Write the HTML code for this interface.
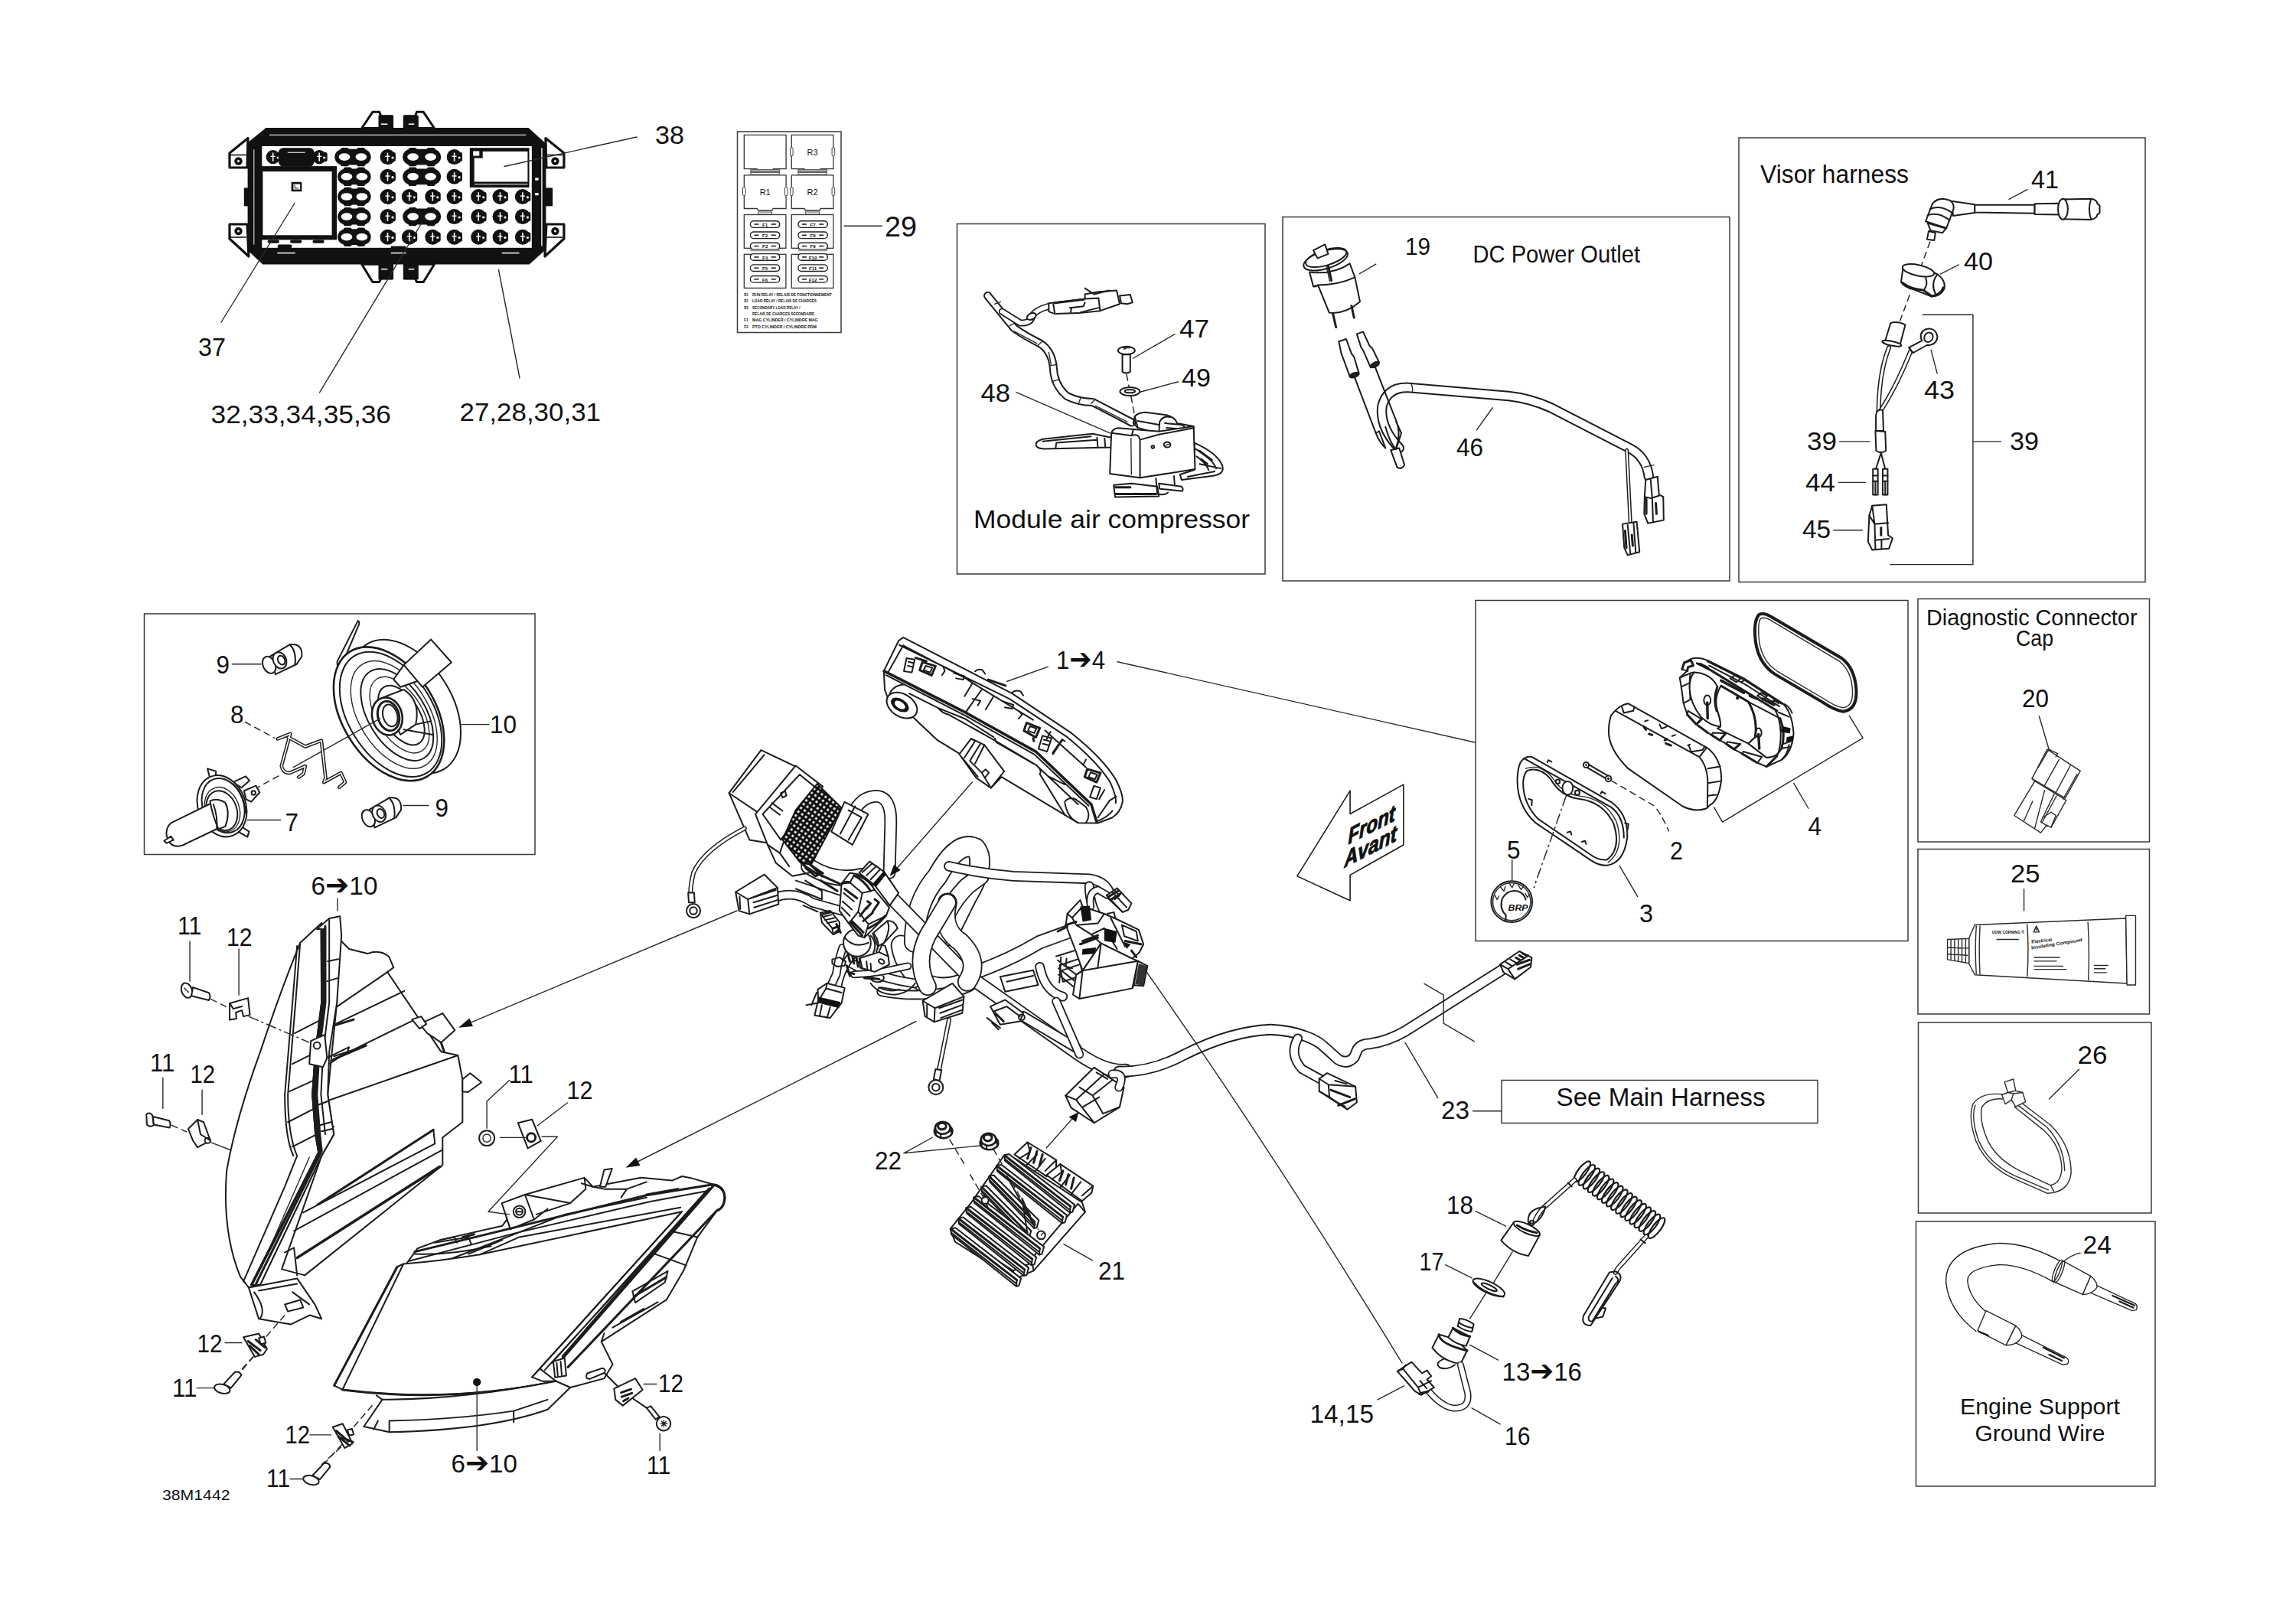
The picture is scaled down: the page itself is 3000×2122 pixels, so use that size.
<!DOCTYPE html>
<html><head><meta charset="utf-8"><title>Electrical System 38M1442</title>
<style>
html,body{margin:0;padding:0;background:#fff}
svg{display:block}
text{font-family:"Liberation Sans",sans-serif;fill:#111}
.l{fill:none;stroke:#1c1c1c;stroke-width:2;stroke-linecap:round;stroke-linejoin:round}
.t{fill:none;stroke:#2a2a2a;stroke-width:1.4;stroke-linecap:round;stroke-linejoin:round}
.h{fill:none;stroke:#1c1c1c;stroke-width:3;stroke-linecap:round;stroke-linejoin:round}
.w{fill:#fff;stroke:#1c1c1c;stroke-width:2;stroke-linecap:round;stroke-linejoin:round}
.k{fill:#111;stroke:none}
.b{fill:none;stroke:#3a3a3a;stroke-width:1.5}
.l,.t,.h,.w,.tb,.tw,.d{vector-effect:non-scaling-stroke}
.tb{fill:none;stroke:#1c1c1c;stroke-linecap:round;stroke-linejoin:round}
.tw{fill:none;stroke:#fff;stroke-linecap:round;stroke-linejoin:round}
.thin .l,.thin .w{stroke-width:1.4;stroke:#2a2a2a}
.thin .h{stroke-width:2.2}
.d{fill:none;stroke:#2a2a2a;stroke-width:1.5;stroke-dasharray:9 5}
.g{fill:#888;stroke:none}
</style></head><body>
<svg width="3000" height="2122" viewBox="0 0 3000 2122">
<rect width="3000" height="2122" fill="#fff"/>
<g id="boxes" class="b">
<rect x="1250.5" y="292.5" width="402.5" height="457.5"/>
<rect x="1676" y="283.5" width="584" height="475.5"/>
<rect x="2272" y="180" width="531" height="580.5"/>
<rect x="1928" y="784.5" width="565" height="445"/>
<rect x="2506" y="782.5" width="302.5" height="317.5"/>
<rect x="2506" y="1109.5" width="302.5" height="215.5"/>
<rect x="2506.5" y="1336" width="304.5" height="249"/>
<rect x="2503.5" y="1596" width="312.5" height="346"/>
<rect x="188.5" y="802" width="510.5" height="314.5"/>
<rect x="1962" y="1411.5" width="413" height="56"/>
<rect x="963.5" y="172" width="135.5" height="262.5" stroke-width="1.5"/>
</g>

<g id="fusebox">
<polygon points="472.7,167.5 486.9,146.3 495.6,146.3 497.8,151.8 512.6,151.8 512.6,167.5" fill="#fff" stroke="#111" stroke-width="3" stroke-linejoin="round"/>
<polygon points="567.5,167.5 553.3,146.3 544.6,146.3 542.4,151.8 528.3,151.8 528.3,167.5" fill="#fff" stroke="#111" stroke-width="3" stroke-linejoin="round"/>
<polygon points="472.7,345.2 486.9,368.5 495.6,368.5 497.8,364.1 512.6,364.1 512.6,345.2" fill="#fff" stroke="#111" stroke-width="3" stroke-linejoin="round"/>
<polygon points="567.5,345.2 553.3,368.5 544.6,368.5 542.4,364.1 528.3,364.1 528.3,345.2" fill="#fff" stroke="#111" stroke-width="3" stroke-linejoin="round"/>
<rect x="494.5" y="150.7" width="18.5" height="16.8" rx="0.0" fill="#111"/>
<rect x="528.3" y="150.7" width="18.5" height="16.8" rx="0.0" fill="#111"/>
<rect x="494.5" y="345.6" width="17.4" height="19.6" rx="0.0" fill="#111"/>
<rect x="528.3" y="345.6" width="18.5" height="19.6" rx="0.0" fill="#111"/>
<line x1="497.8" y1="162.2" x2="506.5" y2="162.2" stroke="#fff" stroke-width="1.5"/>
<line x1="533.7" y1="162.2" x2="541.3" y2="162.2" stroke="#fff" stroke-width="1.5"/>
<line x1="497.8" y1="351.7" x2="506.5" y2="351.7" stroke="#fff" stroke-width="1.5"/>
<line x1="533.7" y1="351.7" x2="541.3" y2="351.7" stroke="#fff" stroke-width="1.5"/>
<polygon points="324.0,180.5 300.0,200.0 300.0,219.0 323.0,219.0" fill="#fff" stroke="#111" stroke-width="3.2" stroke-linejoin="round"/>
<polygon points="323.0,293.0 300.0,293.0 300.0,312.0 325.0,335.0" fill="#fff" stroke="#111" stroke-width="3.2" stroke-linejoin="round"/>
<circle cx="311.5" cy="210.5" r="5.2" fill="#111"/><circle cx="311.5" cy="210.5" r="1.5" fill="#fff"/>
<line x1="300.5" y1="202.5" x2="321.5" y2="202.5" stroke="#111" stroke-width="1.6"/>
<circle cx="311.5" cy="302" r="5.2" fill="#111"/><circle cx="311.5" cy="302" r="1.5" fill="#fff"/>
<line x1="300.5" y1="310.0" x2="321.5" y2="310.0" stroke="#111" stroke-width="1.6"/>
<polygon points="712.9,180.5 736.9,200.0 736.9,219.0 713.9,219.0" fill="#fff" stroke="#111" stroke-width="3.2" stroke-linejoin="round"/>
<polygon points="713.9,293.0 736.9,293.0 736.9,312.0 711.9,335.0" fill="#fff" stroke="#111" stroke-width="3.2" stroke-linejoin="round"/>
<circle cx="725.4" cy="210.5" r="5.2" fill="#111"/><circle cx="725.4" cy="210.5" r="1.5" fill="#fff"/>
<line x1="714.4" y1="202.5" x2="735.4" y2="202.5" stroke="#111" stroke-width="1.6"/>
<circle cx="725.4" cy="302" r="5.2" fill="#111"/><circle cx="725.4" cy="302" r="1.5" fill="#fff"/>
<line x1="714.4" y1="310.0" x2="735.4" y2="310.0" stroke="#111" stroke-width="1.6"/>
<polygon class="k" points="347.5,167.0 690.5,167.0 713.4,187.7 713.4,326.0 691.6,345.6 343.2,345.6 323.6,327.1 323.6,186.6"/>
<rect x="318.8" y="245.4" width="5.9" height="24.0" rx="0.0" fill="#111"/>
<rect x="712.3" y="245.4" width="9.8" height="24.0" rx="0.0" fill="#111"/>
<rect x="342.3" y="191.0" width="352.6" height="132.8" rx="0.0" fill="#fff"/>
<line x1="351.9" y1="176.4" x2="687.2" y2="176.4" stroke="#ddd" stroke-width="1.3"/>
<line x1="331.8" y1="195.3" x2="331.8" y2="319.5" stroke="#ccc" stroke-width="1.2"/>
<line x1="707.9" y1="193.2" x2="707.9" y2="321.6" stroke="#ddd" stroke-width="1.6"/>
<line x1="362.3" y1="330.6" x2="385.6" y2="330.6" stroke="#eee" stroke-width="1.6"/>
<line x1="510.8" y1="330.6" x2="530.4" y2="330.6" stroke="#eee" stroke-width="1.6"/>
<line x1="655.7" y1="330.6" x2="678.5" y2="330.6" stroke="#eee" stroke-width="1.6"/>
<rect x="694.9" y="191.0" width="9.8" height="132.8" rx="0.0" fill="#111"/>
<line x1="693.8" y1="197.5" x2="693.8" y2="238.9" stroke="#fff" stroke-width="1.2"/>
<rect x="341.0" y="217.1" width="99.1" height="96.3" rx="0.0" fill="#111"/>
<rect x="343.4" y="224.1" width="90.2" height="83.2" rx="0.0" fill="#fff"/>
<rect x="380.6" y="237.8" width="13.7" height="12.4" rx="0.0" fill="#111"/>
<rect x="383.4" y="240.6" width="8.7" height="7.0" rx="0.0" fill="#fff"/>
<line x1="385.2" y1="241.5" x2="385.2" y2="245.9" stroke="#111" stroke-width="1"/>
<line x1="385.2" y1="245.9" x2="390.0" y2="245.9" stroke="#111" stroke-width="1"/>
<rect x="349.7" y="313.4" width="15.2" height="4.4" rx="2.2" fill="#111"/>
<rect x="379.1" y="313.4" width="15.2" height="4.4" rx="2.2" fill="#111"/>
<rect x="408.5" y="313.4" width="15.2" height="4.4" rx="2.2" fill="#111"/>
<rect x="362.8" y="319.5" width="18.5" height="5.0" rx="1.7" fill="#111"/>
<rect x="510.8" y="321.6" width="19.6" height="4.4" rx="0.0" fill="#111"/>
<circle cx="356.7" cy="205.1" r="9.1" fill="#111"/>
<rect x="361.0" y="199.0" width="6.1" height="12.2" rx="2.2" fill="#111"/>
<line x1="356.7" y1="199.5" x2="356.7" y2="210.8" stroke="#fff" stroke-width="1.6"/>
<line x1="353.6" y1="204.3" x2="359.7" y2="204.3" stroke="#fff" stroke-width="1.4"/>
<circle cx="363.2" cy="206.0" r="1.6" fill="#fff"/>
<circle cx="417.2" cy="205.1" r="9.1" fill="#111"/>
<rect x="421.6" y="199.0" width="6.1" height="12.2" rx="2.2" fill="#111"/>
<line x1="417.2" y1="199.5" x2="417.2" y2="210.8" stroke="#fff" stroke-width="1.6"/>
<line x1="414.1" y1="204.3" x2="420.2" y2="204.3" stroke="#fff" stroke-width="1.4"/>
<circle cx="423.7" cy="206.0" r="1.6" fill="#fff"/>
<rect x="363.8" y="193.2" width="46.8" height="24.4" rx="6.5" fill="#111"/>
<line x1="375.8" y1="199.3" x2="398.7" y2="199.3" stroke="#ccc" stroke-width="1.3"/>
<rect x="437.2" y="194.7" width="47.5" height="20.9" rx="10.5" fill="#111"/>
<rect x="444.9" y="192.9" width="10.9" height="24.4" rx="2.6" fill="#111"/>
<rect x="466.2" y="192.9" width="10.9" height="24.4" rx="2.6" fill="#111"/>
<ellipse cx="450.0" cy="205.1" rx="7.4" ry="4.8" fill="#fff"/>
<ellipse cx="471.9" cy="205.1" rx="7.4" ry="4.8" fill="#fff"/>
<circle cx="506.5" cy="205.1" r="10.0" fill="#111"/>
<rect x="510.8" y="199.0" width="6.1" height="12.2" rx="2.2" fill="#111"/>
<line x1="506.5" y1="199.5" x2="506.5" y2="210.8" stroke="#fff" stroke-width="1.6"/>
<line x1="503.4" y1="204.3" x2="509.5" y2="204.3" stroke="#fff" stroke-width="1.4"/>
<circle cx="513.0" cy="206.0" r="1.6" fill="#fff"/>
<rect x="526.1" y="194.7" width="50.1" height="20.9" rx="10.5" fill="#111"/>
<rect x="533.7" y="192.9" width="10.9" height="24.4" rx="2.6" fill="#111"/>
<rect x="557.7" y="192.9" width="10.9" height="24.4" rx="2.6" fill="#111"/>
<ellipse cx="539.6" cy="205.1" rx="7.4" ry="4.8" fill="#fff"/>
<ellipse cx="562.6" cy="205.1" rx="7.4" ry="4.8" fill="#fff"/>
<circle cx="593.6" cy="205.1" r="10.0" fill="#111"/>
<rect x="597.9" y="199.0" width="6.1" height="12.2" rx="2.2" fill="#111"/>
<line x1="593.6" y1="199.5" x2="593.6" y2="210.8" stroke="#fff" stroke-width="1.6"/>
<line x1="590.5" y1="204.3" x2="596.6" y2="204.3" stroke="#fff" stroke-width="1.4"/>
<circle cx="600.1" cy="206.0" r="1.6" fill="#fff"/>
<rect x="441.1" y="220.4" width="43.6" height="20.9" rx="10.5" fill="#111"/>
<rect x="448.8" y="218.6" width="10.9" height="24.4" rx="2.6" fill="#111"/>
<rect x="466.2" y="218.6" width="10.9" height="24.4" rx="2.6" fill="#111"/>
<ellipse cx="452.9" cy="230.8" rx="7.4" ry="4.8" fill="#fff"/>
<ellipse cx="472.9" cy="230.8" rx="7.4" ry="4.8" fill="#fff"/>
<circle cx="506.5" cy="230.8" r="10.0" fill="#111"/>
<rect x="510.8" y="224.7" width="6.1" height="12.2" rx="2.2" fill="#111"/>
<line x1="506.5" y1="225.2" x2="506.5" y2="236.5" stroke="#fff" stroke-width="1.6"/>
<line x1="503.4" y1="230.0" x2="509.5" y2="230.0" stroke="#fff" stroke-width="1.4"/>
<circle cx="513.0" cy="231.7" r="1.6" fill="#fff"/>
<rect x="526.1" y="220.4" width="50.1" height="20.9" rx="10.5" fill="#111"/>
<rect x="533.7" y="218.6" width="10.9" height="24.4" rx="2.6" fill="#111"/>
<rect x="557.7" y="218.6" width="10.9" height="24.4" rx="2.6" fill="#111"/>
<ellipse cx="539.6" cy="230.8" rx="7.4" ry="4.8" fill="#fff"/>
<ellipse cx="562.6" cy="230.8" rx="7.4" ry="4.8" fill="#fff"/>
<circle cx="593.6" cy="230.8" r="10.0" fill="#111"/>
<rect x="597.9" y="224.7" width="6.1" height="12.2" rx="2.2" fill="#111"/>
<line x1="593.6" y1="225.2" x2="593.6" y2="236.5" stroke="#fff" stroke-width="1.6"/>
<line x1="590.5" y1="230.0" x2="596.6" y2="230.0" stroke="#fff" stroke-width="1.4"/>
<circle cx="600.1" cy="231.7" r="1.6" fill="#fff"/>
<rect x="441.1" y="246.5" width="43.6" height="20.9" rx="10.5" fill="#111"/>
<rect x="448.8" y="244.8" width="10.9" height="24.4" rx="2.6" fill="#111"/>
<rect x="466.2" y="244.8" width="10.9" height="24.4" rx="2.6" fill="#111"/>
<ellipse cx="452.9" cy="257.0" rx="7.4" ry="4.8" fill="#fff"/>
<ellipse cx="472.9" cy="257.0" rx="7.4" ry="4.8" fill="#fff"/>
<circle cx="506.5" cy="257.0" r="10.0" fill="#111"/>
<rect x="510.8" y="250.9" width="6.1" height="12.2" rx="2.2" fill="#111"/>
<line x1="506.5" y1="251.3" x2="506.5" y2="262.6" stroke="#fff" stroke-width="1.6"/>
<line x1="503.4" y1="256.1" x2="509.5" y2="256.1" stroke="#fff" stroke-width="1.4"/>
<circle cx="513.0" cy="257.8" r="1.6" fill="#fff"/>
<circle cx="534.8" cy="257.0" r="10.0" fill="#111"/>
<rect x="539.1" y="250.9" width="6.1" height="12.2" rx="2.2" fill="#111"/>
<line x1="534.8" y1="251.3" x2="534.8" y2="262.6" stroke="#fff" stroke-width="1.6"/>
<line x1="531.7" y1="256.1" x2="537.8" y2="256.1" stroke="#fff" stroke-width="1.4"/>
<circle cx="541.3" cy="257.8" r="1.6" fill="#fff"/>
<circle cx="565.3" cy="257.0" r="10.0" fill="#111"/>
<rect x="569.6" y="250.9" width="6.1" height="12.2" rx="2.2" fill="#111"/>
<line x1="565.3" y1="251.3" x2="565.3" y2="262.6" stroke="#fff" stroke-width="1.6"/>
<line x1="562.2" y1="256.1" x2="568.3" y2="256.1" stroke="#fff" stroke-width="1.4"/>
<circle cx="571.8" cy="257.8" r="1.6" fill="#fff"/>
<circle cx="593.6" cy="257.0" r="10.0" fill="#111"/>
<rect x="597.9" y="250.9" width="6.1" height="12.2" rx="2.2" fill="#111"/>
<line x1="593.6" y1="251.3" x2="593.6" y2="262.6" stroke="#fff" stroke-width="1.6"/>
<line x1="590.5" y1="256.1" x2="596.6" y2="256.1" stroke="#fff" stroke-width="1.4"/>
<circle cx="600.1" cy="257.8" r="1.6" fill="#fff"/>
<circle cx="625.2" cy="257.0" r="10.0" fill="#111"/>
<rect x="629.5" y="250.9" width="6.1" height="12.2" rx="2.2" fill="#111"/>
<line x1="625.2" y1="251.3" x2="625.2" y2="262.6" stroke="#fff" stroke-width="1.6"/>
<line x1="622.1" y1="256.1" x2="628.2" y2="256.1" stroke="#fff" stroke-width="1.4"/>
<circle cx="631.7" cy="257.8" r="1.6" fill="#fff"/>
<circle cx="653.5" cy="257.0" r="10.0" fill="#111"/>
<rect x="657.8" y="250.9" width="6.1" height="12.2" rx="2.2" fill="#111"/>
<line x1="653.5" y1="251.3" x2="653.5" y2="262.6" stroke="#fff" stroke-width="1.6"/>
<line x1="650.4" y1="256.1" x2="656.5" y2="256.1" stroke="#fff" stroke-width="1.4"/>
<circle cx="660.0" cy="257.8" r="1.6" fill="#fff"/>
<circle cx="682.9" cy="257.0" r="10.0" fill="#111"/>
<rect x="687.2" y="250.9" width="6.1" height="12.2" rx="2.2" fill="#111"/>
<line x1="682.9" y1="251.3" x2="682.9" y2="262.6" stroke="#fff" stroke-width="1.6"/>
<line x1="679.8" y1="256.1" x2="685.9" y2="256.1" stroke="#fff" stroke-width="1.4"/>
<circle cx="689.4" cy="257.8" r="1.6" fill="#fff"/>
<rect x="441.1" y="272.6" width="43.6" height="20.9" rx="10.5" fill="#111"/>
<rect x="448.8" y="270.9" width="10.9" height="24.4" rx="2.6" fill="#111"/>
<rect x="466.2" y="270.9" width="10.9" height="24.4" rx="2.6" fill="#111"/>
<ellipse cx="452.9" cy="283.1" rx="7.4" ry="4.8" fill="#fff"/>
<ellipse cx="472.9" cy="283.1" rx="7.4" ry="4.8" fill="#fff"/>
<circle cx="506.5" cy="283.1" r="10.0" fill="#111"/>
<rect x="510.8" y="277.0" width="6.1" height="12.2" rx="2.2" fill="#111"/>
<line x1="506.5" y1="277.4" x2="506.5" y2="288.8" stroke="#fff" stroke-width="1.6"/>
<line x1="503.4" y1="282.2" x2="509.5" y2="282.2" stroke="#fff" stroke-width="1.4"/>
<circle cx="513.0" cy="284.0" r="1.6" fill="#fff"/>
<rect x="526.1" y="272.6" width="50.1" height="20.9" rx="10.5" fill="#111"/>
<rect x="533.7" y="270.9" width="10.9" height="24.4" rx="2.6" fill="#111"/>
<rect x="557.7" y="270.9" width="10.9" height="24.4" rx="2.6" fill="#111"/>
<ellipse cx="539.6" cy="283.1" rx="7.4" ry="4.8" fill="#fff"/>
<ellipse cx="562.6" cy="283.1" rx="7.4" ry="4.8" fill="#fff"/>
<circle cx="593.6" cy="283.1" r="10.0" fill="#111"/>
<rect x="597.9" y="277.0" width="6.1" height="12.2" rx="2.2" fill="#111"/>
<line x1="593.6" y1="277.4" x2="593.6" y2="288.8" stroke="#fff" stroke-width="1.6"/>
<line x1="590.5" y1="282.2" x2="596.6" y2="282.2" stroke="#fff" stroke-width="1.4"/>
<circle cx="600.1" cy="284.0" r="1.6" fill="#fff"/>
<circle cx="625.2" cy="283.1" r="10.0" fill="#111"/>
<rect x="629.5" y="277.0" width="6.1" height="12.2" rx="2.2" fill="#111"/>
<line x1="625.2" y1="277.4" x2="625.2" y2="288.8" stroke="#fff" stroke-width="1.6"/>
<line x1="622.1" y1="282.2" x2="628.2" y2="282.2" stroke="#fff" stroke-width="1.4"/>
<circle cx="631.7" cy="284.0" r="1.6" fill="#fff"/>
<circle cx="653.5" cy="283.1" r="10.0" fill="#111"/>
<rect x="657.8" y="277.0" width="6.1" height="12.2" rx="2.2" fill="#111"/>
<line x1="653.5" y1="277.4" x2="653.5" y2="288.8" stroke="#fff" stroke-width="1.6"/>
<line x1="650.4" y1="282.2" x2="656.5" y2="282.2" stroke="#fff" stroke-width="1.4"/>
<circle cx="660.0" cy="284.0" r="1.6" fill="#fff"/>
<circle cx="682.9" cy="283.1" r="10.0" fill="#111"/>
<rect x="687.2" y="277.0" width="6.1" height="12.2" rx="2.2" fill="#111"/>
<line x1="682.9" y1="277.4" x2="682.9" y2="288.8" stroke="#fff" stroke-width="1.6"/>
<line x1="679.8" y1="282.2" x2="685.9" y2="282.2" stroke="#fff" stroke-width="1.4"/>
<circle cx="689.4" cy="284.0" r="1.6" fill="#fff"/>
<rect x="441.1" y="299.2" width="43.6" height="20.9" rx="10.5" fill="#111"/>
<rect x="448.8" y="297.5" width="10.9" height="24.4" rx="2.6" fill="#111"/>
<rect x="466.2" y="297.5" width="10.9" height="24.4" rx="2.6" fill="#111"/>
<ellipse cx="452.9" cy="309.7" rx="7.4" ry="4.8" fill="#fff"/>
<ellipse cx="472.9" cy="309.7" rx="7.4" ry="4.8" fill="#fff"/>
<circle cx="506.5" cy="309.7" r="10.0" fill="#111"/>
<rect x="510.8" y="303.6" width="6.1" height="12.2" rx="2.2" fill="#111"/>
<line x1="506.5" y1="304.0" x2="506.5" y2="315.3" stroke="#fff" stroke-width="1.6"/>
<line x1="503.4" y1="308.8" x2="509.5" y2="308.8" stroke="#fff" stroke-width="1.4"/>
<circle cx="513.0" cy="310.5" r="1.6" fill="#fff"/>
<circle cx="534.8" cy="309.7" r="10.0" fill="#111"/>
<rect x="539.1" y="303.6" width="6.1" height="12.2" rx="2.2" fill="#111"/>
<line x1="534.8" y1="304.0" x2="534.8" y2="315.3" stroke="#fff" stroke-width="1.6"/>
<line x1="531.7" y1="308.8" x2="537.8" y2="308.8" stroke="#fff" stroke-width="1.4"/>
<circle cx="541.3" cy="310.5" r="1.6" fill="#fff"/>
<circle cx="565.3" cy="309.7" r="10.0" fill="#111"/>
<rect x="569.6" y="303.6" width="6.1" height="12.2" rx="2.2" fill="#111"/>
<line x1="565.3" y1="304.0" x2="565.3" y2="315.3" stroke="#fff" stroke-width="1.6"/>
<line x1="562.2" y1="308.8" x2="568.3" y2="308.8" stroke="#fff" stroke-width="1.4"/>
<circle cx="571.8" cy="310.5" r="1.6" fill="#fff"/>
<circle cx="593.6" cy="309.7" r="10.0" fill="#111"/>
<rect x="597.9" y="303.6" width="6.1" height="12.2" rx="2.2" fill="#111"/>
<line x1="593.6" y1="304.0" x2="593.6" y2="315.3" stroke="#fff" stroke-width="1.6"/>
<line x1="590.5" y1="308.8" x2="596.6" y2="308.8" stroke="#fff" stroke-width="1.4"/>
<circle cx="600.1" cy="310.5" r="1.6" fill="#fff"/>
<circle cx="625.2" cy="309.7" r="10.0" fill="#111"/>
<rect x="629.5" y="303.6" width="6.1" height="12.2" rx="2.2" fill="#111"/>
<line x1="625.2" y1="304.0" x2="625.2" y2="315.3" stroke="#fff" stroke-width="1.6"/>
<line x1="622.1" y1="308.8" x2="628.2" y2="308.8" stroke="#fff" stroke-width="1.4"/>
<circle cx="631.7" cy="310.5" r="1.6" fill="#fff"/>
<circle cx="653.5" cy="309.7" r="10.0" fill="#111"/>
<rect x="657.8" y="303.6" width="6.1" height="12.2" rx="2.2" fill="#111"/>
<line x1="653.5" y1="304.0" x2="653.5" y2="315.3" stroke="#fff" stroke-width="1.6"/>
<line x1="650.4" y1="308.8" x2="656.5" y2="308.8" stroke="#fff" stroke-width="1.4"/>
<circle cx="660.0" cy="310.5" r="1.6" fill="#fff"/>
<circle cx="682.9" cy="309.7" r="10.0" fill="#111"/>
<rect x="687.2" y="303.6" width="6.1" height="12.2" rx="2.2" fill="#111"/>
<line x1="682.9" y1="304.0" x2="682.9" y2="315.3" stroke="#fff" stroke-width="1.6"/>
<line x1="679.8" y1="308.8" x2="685.9" y2="308.8" stroke="#fff" stroke-width="1.4"/>
<circle cx="689.4" cy="310.5" r="1.6" fill="#fff"/>
<rect x="613.8" y="193.2" width="77.7" height="51.8" rx="0.0" fill="#111"/>
<rect x="619.7" y="197.9" width="69.7" height="39.6" rx="0.0" fill="#fff"/>
<line x1="619.7" y1="240.6" x2="689.4" y2="240.6" stroke="#ccc" stroke-width="1.2"/>
<rect x="616.5" y="195.3" width="14.2" height="11.3" rx="0.0" fill="#111"/>
<rect x="618.2" y="197.5" width="8.1" height="6.1" rx="0.0" fill="#fff"/>
<rect x="699.2" y="232.4" width="4.4" height="3.3" rx="0.0" fill="#fff"/>
<rect x="699.2" y="252.0" width="4.4" height="3.3" rx="0.0" fill="#fff"/>
</g>
<g id="fuselabel">
<polygon points="972.3,176.4 1027.1,176.4 1027.1,220.7 1010.4,220.7 1008.7,223.2 990.8,223.2 989.0,220.7 972.3,220.7" fill="#fff" stroke="#333" stroke-width="1.3"/>
<polygon points="1034.3,176.4 1088.9,176.4 1088.9,220.7 1072.3,220.7 1070.5,223.2 1052.7,223.2 1050.9,220.7 1034.3,220.7" fill="#fff" stroke="#333" stroke-width="1.3"/>
<text x="1061.6" y="202.5" font-size="11" text-anchor="middle" fill="#222">R3</text>
<polygon points="972.3,228.8 1027.1,228.8 1027.1,272.5 1010.4,272.5 1008.7,275.0 990.8,275.0 989.0,272.5 972.3,272.5" fill="#fff" stroke="#333" stroke-width="1.3"/>
<text x="999.7" y="254.6" font-size="11" text-anchor="middle" fill="#222">R1</text>
<polygon points="1034.3,228.8 1088.9,228.8 1088.9,272.5 1072.3,272.5 1070.5,275.0 1052.7,275.0 1050.9,272.5 1034.3,272.5" fill="#fff" stroke="#333" stroke-width="1.3"/>
<text x="1061.6" y="254.6" font-size="11" text-anchor="middle" fill="#222">R2</text>
<rect x="980.9" y="221.6" width="37.5" height="3.0" rx="0.0" fill="#aaa" stroke="#555" stroke-width="1"/>
<rect x="980.9" y="225.4" width="37.5" height="2.5" rx="0.0" fill="none" stroke="#555" stroke-width="1"/>
<rect x="990.7" y="277.0" width="17.9" height="3.0" rx="0.0" fill="none" stroke="#555" stroke-width="1"/>
<rect x="1042.9" y="221.6" width="37.5" height="3.0" rx="0.0" fill="#aaa" stroke="#555" stroke-width="1"/>
<rect x="1042.9" y="225.4" width="37.5" height="2.5" rx="0.0" fill="none" stroke="#555" stroke-width="1"/>
<rect x="1052.7" y="277.0" width="17.9" height="3.0" rx="0.0" fill="none" stroke="#555" stroke-width="1"/>
<rect x="970.5" y="244.8" width="3.6" height="10.7" rx="1.1" fill="#fff" stroke="#444" stroke-width="1"/>
<rect x="1025.4" y="244.8" width="3.6" height="10.7" rx="1.1" fill="#fff" stroke="#444" stroke-width="1"/>
<rect x="1032.5" y="244.8" width="3.6" height="10.7" rx="1.1" fill="#fff" stroke="#444" stroke-width="1"/>
<rect x="1087.1" y="244.8" width="3.6" height="10.7" rx="1.1" fill="#fff" stroke="#444" stroke-width="1"/>
<rect x="1032.5" y="193.0" width="3.6" height="10.7" rx="1.1" fill="#fff" stroke="#444" stroke-width="1"/>
<rect x="1087.1" y="193.0" width="3.6" height="10.7" rx="1.1" fill="#fff" stroke="#444" stroke-width="1"/>
<rect x="972.3" y="280.5" width="54.6" height="43.8" rx="0.0" fill="none" stroke="#333" stroke-width="1.3"/>
<rect x="972.3" y="332.3" width="54.6" height="44.1" rx="0.0" fill="none" stroke="#333" stroke-width="1.3"/>
<rect x="1034.3" y="280.5" width="54.6" height="43.8" rx="0.0" fill="none" stroke="#333" stroke-width="1.3"/>
<rect x="1034.3" y="332.3" width="54.6" height="44.1" rx="0.0" fill="none" stroke="#333" stroke-width="1.3"/>
<rect x="980.4" y="288.8" width="38.4" height="8.6" rx="4.3" fill="#fff" stroke="#222" stroke-width="1.4"/>
<line x1="985.4" y1="293.0" x2="991.4" y2="293.0" stroke="#222" stroke-width="1.6"/>
<line x1="1007.7" y1="293.0" x2="1013.8" y2="293.0" stroke="#222" stroke-width="1.6"/>
<text x="999.6" y="295.7" font-size="6.2" text-anchor="middle" font-weight="bold" fill="#222">F1</text>
<rect x="980.4" y="303.0" width="38.4" height="8.6" rx="4.3" fill="#fff" stroke="#222" stroke-width="1.4"/>
<line x1="985.4" y1="307.3" x2="991.4" y2="307.3" stroke="#222" stroke-width="1.6"/>
<line x1="1007.7" y1="307.3" x2="1013.8" y2="307.3" stroke="#222" stroke-width="1.6"/>
<text x="999.6" y="310.0" font-size="6.2" text-anchor="middle" font-weight="bold" fill="#222">F2</text>
<rect x="980.4" y="317.3" width="38.4" height="8.6" rx="4.3" fill="#fff" stroke="#222" stroke-width="1.4"/>
<line x1="985.4" y1="321.6" x2="991.4" y2="321.6" stroke="#222" stroke-width="1.6"/>
<line x1="1007.7" y1="321.6" x2="1013.8" y2="321.6" stroke="#222" stroke-width="1.6"/>
<text x="999.6" y="324.3" font-size="6.2" text-anchor="middle" font-weight="bold" fill="#222">F3</text>
<rect x="980.4" y="331.6" width="38.4" height="8.6" rx="4.3" fill="#fff" stroke="#222" stroke-width="1.4"/>
<line x1="985.4" y1="335.9" x2="991.4" y2="335.9" stroke="#222" stroke-width="1.6"/>
<line x1="1007.7" y1="335.9" x2="1013.8" y2="335.9" stroke="#222" stroke-width="1.6"/>
<text x="999.6" y="338.6" font-size="6.2" text-anchor="middle" font-weight="bold" fill="#222">F4</text>
<rect x="980.4" y="345.9" width="38.4" height="8.6" rx="4.3" fill="#fff" stroke="#222" stroke-width="1.4"/>
<line x1="985.4" y1="350.2" x2="991.4" y2="350.2" stroke="#222" stroke-width="1.6"/>
<line x1="1007.7" y1="350.2" x2="1013.8" y2="350.2" stroke="#222" stroke-width="1.6"/>
<text x="999.6" y="352.9" font-size="6.2" text-anchor="middle" font-weight="bold" fill="#222">F5</text>
<rect x="980.4" y="360.5" width="38.4" height="8.6" rx="4.3" fill="#fff" stroke="#222" stroke-width="1.4"/>
<line x1="985.4" y1="364.8" x2="991.4" y2="364.8" stroke="#222" stroke-width="1.6"/>
<line x1="1007.7" y1="364.8" x2="1013.8" y2="364.8" stroke="#222" stroke-width="1.6"/>
<text x="999.6" y="367.5" font-size="6.2" text-anchor="middle" font-weight="bold" fill="#222">F6</text>
<line x1="980.4" y1="327.0" x2="1018.8" y2="327.0" stroke="#999" stroke-width="2.5"/>
<rect x="1042.9" y="288.8" width="38.4" height="8.6" rx="4.3" fill="#fff" stroke="#222" stroke-width="1.4"/>
<line x1="1047.9" y1="293.0" x2="1053.9" y2="293.0" stroke="#222" stroke-width="1.6"/>
<line x1="1070.2" y1="293.0" x2="1076.2" y2="293.0" stroke="#222" stroke-width="1.6"/>
<text x="1062.1" y="295.7" font-size="6.2" text-anchor="middle" font-weight="bold" fill="#222">F7</text>
<rect x="1042.9" y="303.0" width="38.4" height="8.6" rx="4.3" fill="#fff" stroke="#222" stroke-width="1.4"/>
<line x1="1047.9" y1="307.3" x2="1053.9" y2="307.3" stroke="#222" stroke-width="1.6"/>
<line x1="1070.2" y1="307.3" x2="1076.2" y2="307.3" stroke="#222" stroke-width="1.6"/>
<text x="1062.1" y="310.0" font-size="6.2" text-anchor="middle" font-weight="bold" fill="#222">F8</text>
<rect x="1042.9" y="317.3" width="38.4" height="8.6" rx="4.3" fill="#fff" stroke="#222" stroke-width="1.4"/>
<line x1="1047.9" y1="321.6" x2="1053.9" y2="321.6" stroke="#222" stroke-width="1.6"/>
<line x1="1070.2" y1="321.6" x2="1076.2" y2="321.6" stroke="#222" stroke-width="1.6"/>
<text x="1062.1" y="324.3" font-size="6.2" text-anchor="middle" font-weight="bold" fill="#222">F9</text>
<rect x="1042.9" y="331.6" width="38.4" height="8.6" rx="4.3" fill="#fff" stroke="#222" stroke-width="1.4"/>
<line x1="1047.9" y1="335.9" x2="1053.9" y2="335.9" stroke="#222" stroke-width="1.6"/>
<line x1="1070.2" y1="335.9" x2="1076.2" y2="335.9" stroke="#222" stroke-width="1.6"/>
<text x="1062.1" y="338.6" font-size="6.2" text-anchor="middle" font-weight="bold" fill="#222">F10</text>
<rect x="1042.9" y="345.9" width="38.4" height="8.6" rx="4.3" fill="#fff" stroke="#222" stroke-width="1.4"/>
<line x1="1047.9" y1="350.2" x2="1053.9" y2="350.2" stroke="#222" stroke-width="1.6"/>
<line x1="1070.2" y1="350.2" x2="1076.2" y2="350.2" stroke="#222" stroke-width="1.6"/>
<text x="1062.1" y="352.9" font-size="6.2" text-anchor="middle" font-weight="bold" fill="#222">F11</text>
<rect x="1042.9" y="360.5" width="38.4" height="8.6" rx="4.3" fill="#fff" stroke="#222" stroke-width="1.4"/>
<line x1="1047.9" y1="364.8" x2="1053.9" y2="364.8" stroke="#222" stroke-width="1.6"/>
<line x1="1070.2" y1="364.8" x2="1076.2" y2="364.8" stroke="#222" stroke-width="1.6"/>
<text x="1062.1" y="367.5" font-size="6.2" text-anchor="middle" font-weight="bold" fill="#222">F12</text>
<line x1="1042.9" y1="327.0" x2="1081.2" y2="327.0" stroke="#999" stroke-width="2.5"/>
<text x="972.3" y="387.1" font-size="4.6" text-anchor="start" textLength="5.4" lengthAdjust="spacingAndGlyphs" font-weight="bold" fill="#222">R1</text>
<text x="983.0" y="387.1" font-size="4.6" text-anchor="start" textLength="103.6" lengthAdjust="spacingAndGlyphs" font-weight="bold" fill="#222">RUN RELAY / RELAIS DE FONCTIONNEMENT</text>
<text x="972.3" y="395.4" font-size="4.6" text-anchor="start" textLength="5.4" lengthAdjust="spacingAndGlyphs" font-weight="bold" fill="#222">R2</text>
<text x="983.0" y="395.4" font-size="4.6" text-anchor="start" textLength="83.9" lengthAdjust="spacingAndGlyphs" font-weight="bold" fill="#222">LOAD RELAY / RELAIS DE CHARGES</text>
<text x="972.3" y="403.6" font-size="4.6" text-anchor="start" textLength="5.4" lengthAdjust="spacingAndGlyphs" font-weight="bold" fill="#222">R3</text>
<text x="983.0" y="403.6" font-size="4.6" text-anchor="start" textLength="62.5" lengthAdjust="spacingAndGlyphs" font-weight="bold" fill="#222">SECONDARY LOAD RELAY /</text>
<text x="983.0" y="411.8" font-size="4.6" text-anchor="start" textLength="81.2" lengthAdjust="spacingAndGlyphs" font-weight="bold" fill="#222">RELAIS DE CHARGES SECONDAIRE</text>
<text x="972.3" y="420.2" font-size="4.6" text-anchor="start" textLength="5.4" lengthAdjust="spacingAndGlyphs" font-weight="bold" fill="#222">F1</text>
<text x="983.0" y="420.2" font-size="4.6" text-anchor="start" textLength="85.7" lengthAdjust="spacingAndGlyphs" font-weight="bold" fill="#222">MAG CYLINDER / CYLINDRE MAG</text>
<text x="972.3" y="428.8" font-size="4.6" text-anchor="start" textLength="5.4" lengthAdjust="spacingAndGlyphs" font-weight="bold" fill="#222">F2</text>
<text x="983.0" y="428.8" font-size="4.6" text-anchor="start" textLength="83.9" lengthAdjust="spacingAndGlyphs" font-weight="bold" fill="#222">PTO CYLINDER / CYLINDRE PDM</text>
</g>
<g id="module" transform="translate(1260,350) scale(0.19707)">
<!-- long harness tube -->
<path class="tb" stroke-width="11" d="M155,185 L330,400 Q400,450 500,500 Q580,550 590,660 Q595,780 680,850 Q760,890 850,890 L1110,1025"/>
<path class="tw" stroke-width="7" d="M155,185 L330,400 Q400,450 500,500 Q580,550 590,660 Q595,780 680,850 Q760,890 850,890 L1110,1025"/>
<path class="t" d="M200,240 L240,225 M300,385 L345,360 M480,520 L520,485 M565,650 L615,640 M580,755 L625,740 M760,895 L770,865 M840,900 L870,870 M870,915 L1080,1020 M330,420 L480,500 M560,560 L575,640"/>
<!-- branch to connector -->
<path class="tb" stroke-width="9" d="M250,290 L370,365 Q440,370 450,320 Q470,280 560,255"/>
<path class="tw" stroke-width="5.5" d="M250,290 L370,365 Q440,370 450,320 Q470,280 560,255"/>
<ellipse class="w" cx="445" cy="322" rx="32" ry="20" transform="rotate(-25 445 322)"/>
<!-- top connector -->
<path class="w" d="M560,235 L800,205 L800,175 L880,160 L1010,150 L1030,240 L900,285 L760,300 L600,305 L560,290 Z"/>
<path class="w" d="M1030,185 L1100,178 L1115,230 L1080,240 L1040,235 Z"/>
<path class="l" d="M800,135 L860,175 L960,150 M800,205 L890,200 L900,285 M590,240 L600,305 M700,265 L790,255 L800,230 M710,270 L705,295 M770,295 L900,262"/>
<path class="h" d="M600,232 L790,210"/>
<!-- screw 47 -->
<path class="w" d="M1048,575 L1048,690 Q1075,705 1100,690 L1100,575 Z"/>
<ellipse class="w" cx="1075" cy="548" rx="56" ry="26"/>
<path class="t" d="M1050,530 L1100,530 M1060,540 L1090,522"/>
<!-- washer 49 -->
<ellipse class="w" cx="1098" cy="820" rx="66" ry="28"/>
<ellipse class="l" cx="1098" cy="818" rx="34" ry="11"/>
<path class="d" d="M1075,705 L1092,790 M1105,850 L1130,985"/>
<!-- left tube of module -->
<path class="w" d="M975,1125 L850,1100 L520,1135 Q470,1150 475,1175 Q480,1200 530,1200 L975,1190 Z"/>
<path class="l" d="M520,1150 L840,1118 M610,1160 L880,1140 M610,1160 L605,1198 M880,1125 L885,1190 M930,1130 L935,1190"/>
<!-- bracket top right -->
<path class="w" d="M1130,985 Q1150,960 1200,958 L1340,975 Q1400,990 1410,1030 L1520,1050 L1520,1110 L1290,1100 L1150,1060 Z"/>
<path class="l" d="M1290,1100 L1295,1020 Q1320,975 1370,990 M1330,1030 L1440,1040 Q1470,1050 1450,1070 L1340,1060 M1150,1015 L1290,1040 M1130,985 L1120,1030 L1150,1060"/>
<!-- right wires -->
<path class="w" d="M1525,1160 Q1680,1230 1710,1310 Q1730,1370 1640,1380 L1440,1405 L1430,1370 L1525,1340 Z"/>
<path class="l" d="M1530,1200 Q1640,1260 1670,1330 M1540,1250 Q1600,1290 1620,1340 M1480,1385 L1660,1350 M1560,1300 L1700,1330"/>
<path class="h" d="M1560,1215 L1640,1275 M1570,1270 L1610,1300"/>
<!-- bottom connector + pins -->
<path class="w" d="M990,1440 L1110,1430 L1280,1450 L1290,1515 L1000,1520 Z"/>
<path class="h" d="M1000,1455 L1100,1455 M1000,1500 L1270,1500"/>
<path class="w" d="M1290,1430 L1440,1450 Q1455,1465 1445,1480 L1295,1465 Z"/>
<path class="l" d="M1270,1395 L1280,1500 Q1330,1510 1350,1490 M1390,1380 L1395,1440"/>
<!-- main box -->
<path class="w" d="M975,1095 Q985,1065 1020,1062 L1290,1085 L1520,1050 L1530,1335 L1165,1392 L965,1365 Z"/>
<path class="l" d="M975,1095 L1110,1112 Q1155,1095 1165,1140 L1165,1392 M1165,1140 L1290,1105 L1520,1062 M1110,1112 L1120,1075"/>
<path class="t" d="M1105,1130 L1108,1370"/>
<circle class="l" cx="1250" cy="1188" r="9"/>
<ellipse class="l" cx="1345" cy="1172" rx="22" ry="18"/>
<path class="t" d="M1325,1180 L1366,1165"/>
</g>

<g id="dcoutlet" transform="translate(1680,300) scale(0.27711)">
<!-- main tube -->
<path class="tb" stroke-width="13.5" d="M535,1030 Q440,930 455,830 Q480,740 580,745 L1050,785 Q1150,795 1250,840 L1620,1030 Q1700,1070 1712,1165"/>
<path class="tw" stroke-width="9.5" d="M535,1030 Q440,930 455,830 Q480,740 580,745 L1050,785 Q1150,795 1250,840 L1620,1030 Q1700,1070 1712,1165"/>
<path class="t" d="M592,728 Q602,750 595,770 M1690,1120 L1735,1110"/>
<!-- tip -->
<path class="w" d="M495,1040 L525,1120 Q545,1135 560,1110 L535,1030 Z"/>
<!-- thin wires -->
<path class="l" d="M322,690 L425,960 Q440,1000 470,1030 M420,645 L520,900 Q545,960 520,1030 M425,960 L440,950 L470,1030 M520,905 L545,960 L520,1035 M470,930 Q490,1000 515,1030"/>
<!-- terminals -->
<path class="w" d="M250,528 L285,516 L310,585 L322,600 L345,678 L303,695 L268,600 L262,585 Z"/>
<path class="w" d="M335,492 L365,482 L395,548 L408,560 L440,625 L400,650 L365,570 L355,555 Z"/>
<ellipse class="h" cx="324" cy="686" rx="20" ry="8" transform="rotate(-20 324 686)"/>
<ellipse class="h" cx="420" cy="637" rx="20" ry="8" transform="rotate(-25 420 637)"/>
<!-- outlet -->
<ellipse class="w" cx="188" cy="142" rx="108" ry="42" transform="rotate(-17 188 142)"/>
<ellipse class="l" cx="190" cy="132" rx="100" ry="36" transform="rotate(-17 190 132)"/>
<path class="w" d="M130,98 L185,70 L200,115 L150,135 Z"/>
<path class="w" d="M112,200 L130,268 L152,262 L205,392 Q280,400 350,340 L326,225 L302,160 Q220,215 112,200 Z"/>
<path class="l" d="M152,262 Q250,260 326,225 M130,268 Q140,270 152,262"/>
<path class="h" d="M200,172 L215,240 M222,395 L237,460 M310,360 L322,415"/>
<path class="t" d="M192,175 L207,243"/>
<!-- thin branch -->
<path class="tb" stroke-width="5" d="M1608,1040 L1625,1385"/>
<path class="tw" stroke-width="2" d="M1608,1040 L1625,1385"/>
<!-- connectors -->
<path class="w" d="M1697,1180 L1753,1165 L1760,1250 L1780,1260 L1782,1370 L1708,1385 L1690,1340 L1692,1260 Z"/>
<path class="l" d="M1720,1175 L1728,1265 L1760,1255 M1728,1265 L1732,1380 M1692,1260 L1728,1268"/>
<path class="h" d="M1745,1290 L1748,1340 M1700,1270 L1700,1340"/>
<path class="w" d="M1588,1388 L1655,1378 L1668,1520 L1612,1535 L1596,1500 Z"/>
<path class="l" d="M1612,1392 L1625,1530 M1640,1385 L1650,1520"/>
<path class="h" d="M1600,1420 L1606,1500 M1632,1440 L1636,1490"/>
</g>

<g id="visor" transform="translate(2420,230) scale(0.32029)">
<!-- cable 41 -->
<path class="w" d="M500,118 L745,118 L745,152 L500,148 Z"/>
<path class="w" d="M405,102 L500,116 L500,150 L412,162 Z"/>
<path class="w" d="M745,113 L850,112 L850,158 L745,156 Z"/>
<path class="w" d="M858,95 L975,93 Q1000,98 1000,112 L1010,120 L1010,150 L1000,158 Q1000,172 975,178 L858,176 Z"/>
<ellipse class="w" cx="860" cy="135" rx="20" ry="42"/>
<path class="l" d="M975,93 Q960,135 975,178"/>
<path class="w" d="M300,185 L328,112 Q355,82 400,100 Q420,115 412,140 L385,212 Z"/>
<path class="l" d="M318,135 Q360,115 408,150 M308,160 Q350,145 398,180"/>
<path class="w" d="M308,192 L383,214 L368,232 L320,222 Z"/>
<path class="w" d="M312,225 L340,232 L335,262 L306,258 Z"/>
<!-- dashed axis -->
<path class="d" d="M318,268 L275,385 M235,485 L195,592"/>
<!-- cap 40 -->
<path class="w" d="M208,372 L200,432 Q215,455 250,462 L325,492 Q360,490 375,462 Q385,430 350,402 L335,395 Z"/>
<ellipse class="w" cx="270" cy="385" rx="66" ry="22" transform="rotate(12 270 385)"/>
<path class="h" d="M205,435 Q240,462 290,465 L325,490 Q362,485 372,455"/>
<path class="l" d="M300,415 Q310,440 295,462 M345,405 Q320,440 340,480"/>
<!-- ferrule -->
<path class="w" d="M157,600 Q185,590 217,607 L195,690 L135,672 Z"/>
<ellipse class="w" cx="162" cy="683" rx="40" ry="9" transform="rotate(12 162 683)"/>
<!-- wires -->
<path class="tb" stroke-width="6" d="M150,700 Q110,800 108,960"/>
<path class="tw" stroke-width="3" d="M150,700 Q110,800 108,960"/>
<path class="tb" stroke-width="6" d="M238,716 Q180,860 115,960"/>
<path class="tw" stroke-width="3" d="M238,716 Q180,860 115,960"/>
<!-- ring terminal 43 -->
<path class="w" d="M232,700 L285,672 Q270,640 300,625 Q340,615 348,655 Q345,690 305,690 L248,722 Z"/>
<ellipse class="l" cx="312" cy="658" rx="17" ry="20" transform="rotate(30 312 658)"/>
<path class="l" d="M232,700 Q240,715 250,720"/>
<!-- junction sleeve -->
<path class="w" d="M97,975 Q100,950 125,955 L128,1040 L97,1040 Z"/>
<path class="w" d="M95,1040 L135,1043 L138,1120 Q118,1135 98,1120 Z"/>
<path class="l" d="M118,1130 L97,1195 M118,1130 L135,1195"/>
<!-- terminals 44 -->
<rect class="w" x="85" y="1195" width="20" height="105"/>
<rect class="w" x="125" y="1195" width="20" height="105"/>
<path class="l" d="M85,1222 L105,1222 M85,1245 L105,1245 M125,1222 L145,1222 M125,1245 L145,1245 M95,1250 L95,1300 M135,1250 L135,1300"/>
<!-- connector 45 -->
<path class="w" d="M82,1345 L140,1340 L147,1465 L165,1478 L150,1520 L82,1525 L65,1492 L70,1385 Z"/>
<path class="l" d="M82,1345 L92,1420 L147,1415 M92,1420 L95,1522 M70,1385 L92,1420 M95,1485 L150,1480 M120,1485 L120,1522"/>
<path class="h" d="M118,1435 L118,1465"/>
<!-- bracket -->
<path class="t" d="M288,566 L493,566 L493,1585 L155,1585 M493,1083 L607,1083"/>
</g>

<g id="gaugebox" transform="translate(1930,785) scale(0.27397)">
<!-- gasket -->
<path class="h" stroke-width="4" style="stroke-width:4" d="M1345,65 Q1370,55 1400,75 L1740,275 Q1800,320 1808,420 Q1815,520 1745,528 Q1700,520 1650,485 L1420,350 Q1330,290 1325,160 Q1322,90 1345,65 Z"/>
<path class="t" d="M1352,85 Q1372,75 1398,92 L1730,290 Q1785,335 1790,425 Q1795,505 1745,510 Q1705,503 1658,470 L1430,335 Q1348,280 1343,165 Q1340,100 1352,85 Z"/>
<!-- lens cover -->
<path class="w" d="M640,545 Q680,495 720,490 L1095,700 Q1165,750 1165,850 Q1155,950 1110,975 L1095,990 Q1040,1010 980,980 L720,800 Q620,700 628,610 Q630,570 640,545 Z"/>
<path class="l" d="M660,525 L1060,745 Q1100,790 1100,870 L1098,985 M1060,745 L1095,700 M1100,800 L1160,790 M1100,870 L1163,860 M1100,930 L1140,925"/>
<path class="l" d="M690,505 L700,535 L745,525 L750,505 M1010,690 L1020,720 L1075,712 L1085,695 M870,590 L880,610 L905,600 M800,575 L815,570 M930,645 L945,640 M1005,690 L1015,685"/>
<path class="h" d="M795,600 L805,615 M820,635 L835,640 M895,665 L905,660 M900,680 L925,690"/>
<!-- bezel 3 -->
<path class="w" d="M215,760 Q235,738 262,745 L640,960 Q722,1020 716,1130 Q700,1250 620,1262 Q580,1264 540,1236 L280,1060 Q190,980 192,850 Q195,780 215,760 Z"/>
<path class="l" d="M240,810 Q300,790 350,850 Q400,935 490,945 Q600,960 650,1060 Q690,1180 620,1235 Q580,1240 540,1210 L290,1040 Q215,960 220,860 Q225,820 240,810 Z"/>
<path class="t" d="M232,800 Q305,775 360,845 Q405,920 495,932 Q612,945 665,1055 Q705,1185 625,1248"/>
<path class="l" d="M225,752 L640,985 Q700,1030 700,1130 M335,770 L340,760 L355,768 M590,920 L595,910 L612,920 M705,1060 L722,1065 L718,1090 M430,1105 L445,1100 L450,1115 M500,1150 L515,1145 L520,1160 M245,945 L262,950 L260,975"/>
<ellipse class="w" cx="432" cy="893" rx="25" ry="32"/>
<circle class="l" cx="385" cy="862" r="10"/><circle class="l" cx="478" cy="915" r="11"/>
<!-- screw 2 -->
<path class="w" d="M522,775 L630,838 L622,852 L515,790 Z"/>
<circle class="w" cx="520" cy="783" r="13"/><circle class="w" cx="626" cy="848" r="14"/>
<circle class="k" cx="520" cy="783" r="5"/><circle class="k" cx="626" cy="848" r="6"/>
<!-- BRP cap 5 -->
<circle class="w" cx="165" cy="1435" r="98"/>
<circle class="t" cx="165" cy="1435" r="90"/>
<path class="l" d="M135,1530 L138,1500 Q105,1470 120,1420 Q145,1375 195,1385 Q225,1395 232,1425"/>
<path class="t" d="M85,1405 L95,1425 L105,1408 M112,1365 L128,1385 L135,1362 M152,1345 L167,1368 L178,1345 M195,1355 L210,1378 L222,1360 M230,1395 L240,1415 L250,1400"/>
<text x="148" y="1478" font-size="40" font-weight="bold" font-style="italic" textLength="95" lengthAdjust="spacingAndGlyphs">BRP</text>
</g>

<g id="housing" transform="translate(2180,850) scale(0.09852)">
<!-- silhouette -->
<path class="w" d="M300,110 Q400,80 520,130 L1000,370 L1500,690 Q1640,800 1660,1100 Q1640,1350 1500,1450 L1300,1540 L1180,1490 L980,1370 L870,1310 L770,1240 L680,1190 L570,1120 L370,980 L250,850 L200,700 L170,480 L150,360 L250,270 L180,250 L210,160 Z"/>
<!-- left hook & tabs -->
<path class="h" d="M180,250 L210,160 L300,130 L330,200 L260,220 L250,270"/>
<path class="l" d="M150,360 L290,300 L280,430 L170,480 M280,430 L290,650 L200,700 M290,300 L340,290"/>
<!-- bottom tabs -->
<path class="w" d="M260,800 L440,910 L370,980 L250,850 Z"/><path class="w" d="M590,1090 L760,1100 L680,1190 L570,1120 Z"/><path class="w" d="M780,1210 L950,1240 L870,1310 L770,1240 Z"/><path class="w" d="M990,1340 L1240,1410 L1180,1490 L980,1370 Z"/>
<path class="h" d="M250,850 L370,980 L440,910 M570,1120 L680,1190 L760,1100 M770,1240 L870,1310 L950,1240 M980,1370 L1180,1490 M400,1000 L520,1090"/>
<!-- dials -->
<path class="w" d="M340,290 Q560,300 650,480 Q600,640 650,800 Q700,940 690,1010 Q560,1000 430,880 Q290,700 280,500 Q280,360 340,290 Z"/>
<path class="w" d="M700,470 L1060,680 Q1190,900 1150,1150 L1060,1235 L650,1035 L690,1010 Q700,940 650,800 Q600,640 690,480 Z"/>
<path class="w" d="M1060,680 L1480,900 Q1560,1100 1500,1300 Q1440,1420 1300,1420 L1060,1235 L1150,1150 Q1190,900 1060,680 Z"/>
<path class="h" d="M650,480 Q590,640 640,800 M1060,680 Q1190,900 1150,1150 M700,470 L1060,680"/>
<circle class="l" cx="915" cy="630" r="12"/>
<!-- needles -->
<ellipse class="l" cx="515" cy="660" rx="45" ry="65"/><path class="h" style="stroke-width:3.4" d="M515,690 L520,900"/>
<ellipse class="l" cx="1195" cy="1090" rx="40" ry="60"/><path class="h" style="stroke-width:3.4" d="M1195,1110 L1205,1300"/>
<!-- top rim -->
<path class="h" d="M520,140 L1000,380 L1500,700 M560,260 L1050,560 L1440,800 M380,170 L560,260"/>
<path class="l" d="M540,200 L1020,450 L1470,740"/>
<path class="h" style="stroke-width:3.6" d="M700,400 L1000,560 M1080,600 L1180,640 M1250,640 L1400,720 M420,180 L520,230"/>
<path class="l" d="M820,370 L880,330 L960,370 L900,420 Z M1180,600 L1230,560 L1310,600 L1260,650 Z M960,420 L1000,400 M1340,700 L1400,660 L1460,700"/>
<!-- right end -->
<path class="l" d="M1500,700 Q1600,720 1640,830 M1420,800 Q1480,900 1490,1100 Q1490,1300 1440,1400 M1500,1450 Q1580,1380 1600,1250"/>
<path class="h" d="M1480,900 Q1560,1100 1500,1300 M1440,1400 L1300,1540"/>
<path d="M1500,1000 L1620,1030 L1610,1100 L1490,1080 Z M1570,1150 L1655,1130 L1650,1200 L1560,1215 Z" fill="#111"/>
<path class="l" d="M1520,1240 L1640,1200 M1500,1300 L1610,1280 M1460,820 L1600,880"/>
</g>

<g id="diag" class="thin" transform="translate(2510,870) scale(0.28329)">
<path class="w" d="M582,385 L735,485 L665,610 L512,520 Z"/>
<path class="w" d="M525,532 L670,620 L600,745 L580,735 L552,770 L430,690 Z"/>
<path class="l" d="M540,470 L590,385 L630,405 L622,420 M637,432 L570,552 M690,458 L622,585 M512,520 L525,532 M515,625 L475,715 M570,575 L525,748 M615,590 L552,720 L585,740 M600,675 L622,690 L600,745 M560,700 L600,675"/>
<path class="t" d="M625,600 L560,720 M720,500 L655,615"/>
</g>
<g id="tube25" class="thin" transform="translate(2510,870) scale(0.28329)">
<path class="w" d="M122,1262 L222,1258 L222,1372 L122,1355 Z"/>
<path class="l" d="M138,1262 L138,1357 M155,1261 L155,1360 M172,1260 L172,1363 M189,1260 L189,1366 M206,1259 L206,1369 M122,1300 L222,1302 M122,1330 L215,1335"/>
<path class="w" d="M248,1195 L945,1165 L950,1465 L248,1425 L222,1375 L222,1255 Z"/>
<path class="w" d="M945,1152 L990,1152 L990,1472 L950,1472 Z"/>
<path class="l" d="M255,1200 Q248,1310 255,1420 M272,1200 Q266,1310 272,1422 M490,1193 Q498,1310 490,1432 M770,1182 Q778,1310 772,1448"/>
<path class="l" d="M350,1262 L450,1262 M522,1345 L640,1345 M522,1362 L625,1362 M522,1385 L655,1385 M522,1400 L670,1400 M800,1382 L862,1382 M800,1397 L850,1397 M800,1415 L855,1415"/>
<path class="l" d="M520,1228 L532,1200 L545,1228 Z M533,1208 L533,1220"/>
<text x="328" y="1234" font-size="20" font-weight="bold" textLength="148" lengthAdjust="spacingAndGlyphs">DOW CORNING ®</text>
<text transform="translate(510,1280) rotate(-6)" font-size="22" font-weight="bold" textLength="95" lengthAdjust="spacingAndGlyphs">Electrical</text>
<text transform="translate(510,1308) rotate(-9)" font-size="22" font-weight="bold" textLength="238" lengthAdjust="spacingAndGlyphs">Insulating Compound</text>
</g>

<g id="clamp26" class="thin" transform="translate(2510,1340) scale(0.30168)">
<path class="l" d="M352,298 Q262,288 225,340 Q203,400 238,500 Q280,605 400,662 L548,727 Q640,722 650,640 Q652,520 560,430 L435,335"/>
<path class="l" d="M352,318 Q292,312 264,352 Q250,410 290,500 Q330,580 430,630 L562,692 Q606,682 610,620 Q606,522 530,452 L405,352"/>
<path class="t" d="M235,345 Q215,400 250,500 Q292,598 405,650 L552,712 M562,692 L575,718 M420,345 L545,440 Q620,520 622,628"/>
<path class="w" d="M362,245 L400,232 L410,283 L440,290 L453,330 L410,352 L392,322 L365,340 L350,300 L376,290 Z"/>
<path class="l" d="M376,290 L410,283 M392,322 L400,295 L440,290 M400,295 L376,290"/>
</g>
<g id="wire24" class="thin" transform="translate(2510,1340) scale(0.30168)">
<path class="tb" stroke-width="29.5" style="stroke-linecap:butt" d="M600,1072 Q450,985 330,990 Q150,1010 155,1110 Q165,1210 268,1288"/>
<path class="tw" stroke-width="26.7" style="stroke-linecap:butt" d="M602,1073 Q450,985 330,990 Q150,1010 155,1110 Q165,1210 270,1290"/>
<!-- upper sleeve + pin -->
<path class="w" d="M745,1118 L930,1205 Q940,1220 932,1232 L915,1235 L722,1152 Z"/>
<path class="h" d="M830,1170 L925,1212 M860,1195 L920,1222"/>
<path class="w" d="M735,1085 Q765,1110 762,1135 Q740,1165 700,1165 Z"/>
<path class="w" d="M612,1018 L735,1085 L700,1165 L572,1108 Z"/>
<ellipse class="w" cx="590" cy="1062" rx="12" ry="50" transform="rotate(22 590 1062)"/>
<ellipse class="l" cx="600" cy="1066" rx="12" ry="50" transform="rotate(22 600 1066)"/>
<!-- lower sleeve + pin -->
<path class="w" d="M418,1332 L630,1438 Q645,1452 635,1465 L615,1470 L395,1368 Z"/>
<path class="h" d="M530,1395 L620,1440 M555,1425 L610,1452"/>
<path class="w" d="M410,1300 Q440,1325 436,1350 Q415,1385 368,1385 Z"/>
<path class="w" d="M282,1235 L410,1300 L368,1385 L245,1322 Z"/>
<path class="h" d="M250,1325 L290,1342"/>
</g>

<g id="bulbbox" transform="translate(190,800) scale(0.22213)">
<!-- boot 10 : back ellipse -->
<g transform="rotate(58 1530 555)"><ellipse class="w" cx="1530" cy="555" rx="432" ry="272"/></g>
<path class="w" d="M1250,50 Q1262,55 1255,75 L1160,300 L1130,320 L1128,290 Z"/>
<g transform="rotate(58 1432 598)">
<ellipse class="w" cx="1432" cy="598" rx="432" ry="272" style="stroke-width:2.6"/>
<ellipse class="l" cx="1440" cy="590" rx="405" ry="248"/>
<ellipse class="t" cx="1452" cy="575" rx="350" ry="205"/>
<ellipse class="l" cx="1462" cy="560" rx="300" ry="168"/>
<ellipse class="t" cx="1470" cy="548" rx="250" ry="135"/>
<ellipse class="l" cx="1478" cy="540" rx="195" ry="105"/>
</g>
<!-- tab -->
<path class="w" d="M1460,395 L1520,310 L1680,160 L1800,295 L1630,440 L1600,405 L1500,440 Z"/>
<path class="l" d="M1520,310 L1600,405"/>
<!-- centre tube -->
<path class="w" d="M1400,500 L1520,455 Q1620,520 1590,660 L1500,720 Z"/>
<g transform="rotate(-15 1422 612)"><ellipse class="w" cx="1422" cy="612" rx="88" ry="112" style="stroke-width:2.6"/><ellipse class="h" cx="1430" cy="612" rx="62" ry="88"/><ellipse class="l" cx="1440" cy="612" rx="42" ry="66"/></g>
<path class="l" d="M1590,660 L1680,640 M1520,690 L1690,720"/>
<!-- axis -->
<path class="t" d="M1380,625 L870,912"/>
<path class="d" d="M785,962 L660,1030"/>
<!-- cap 9 top & bottom -->
<g id="cap9">
<path class="w" d="M735,258 L850,190 Q925,180 920,260 L890,305 L765,365 Z"/>
<path class="l" d="M850,190 Q890,230 880,310"/>
<ellipse class="w" cx="728" cy="310" rx="36" ry="52" transform="rotate(-25 728 310)"/>
<ellipse class="w" cx="790" cy="283" rx="38" ry="50" transform="rotate(-25 790 283)"/>
<ellipse class="l" cx="800" cy="282" rx="20" ry="28" transform="rotate(-25 800 282)"/>
</g>
<use href="#cap9" transform="translate(584,902)"/>
<!-- spring clip 8 -->
<path class="tb" stroke-width="4.6" d="M778,745 L852,715 L800,905 Q810,948 850,945 L940,905 L930,950 L902,970 M840,735 L940,790 L1035,755 L1060,975 L1050,1000 L1150,945 L1175,1000 L1140,1030"/>
<path class="tw" stroke-width="1.6" d="M778,745 L852,715 L800,905 Q810,948 850,945 L940,905 L930,950 L902,970 M840,735 L940,790 L1035,755 L1060,975 L1050,1000 L1150,945 L1175,1000 L1140,1030"/>
<!-- bulb 7 -->
<path class="w" d="M515,1000 L590,965 L612,990 L565,1032 Z"/>
<path class="w" d="M580,1050 L650,1020 L672,1060 L622,1115 L592,1100 Z"/>
<circle class="l" cx="636" cy="1062" r="12"/>
<path class="w" d="M365,920 L415,935 L412,985 L380,978 Z"/>
<path class="w" d="M555,1255 L610,1290 L600,1322 L545,1290 Z"/>
<g transform="rotate(-20 450 1140)">
<ellipse class="w" cx="450" cy="1140" rx="140" ry="185"/>
<ellipse class="l" cx="458" cy="1140" rx="120" ry="165"/>
<ellipse class="l" cx="440" cy="1165" rx="88" ry="120"/>
<ellipse class="t" cx="445" cy="1160" rx="100" ry="135"/>
</g>
<path class="w" d="M150,1240 Q118,1270 125,1312 Q135,1360 165,1372 Q200,1385 240,1360 L440,1265 Q400,1200 385,1125 Z"/>
<path class="w" d="M110,1345 L150,1318 L165,1340 L125,1358 Z"/>
<path class="w" d="M380,1110 Q420,1090 470,1120 Q500,1180 470,1260 L430,1275 Q395,1200 380,1110 Z"/>
<path class="l" d="M400,1130 Q425,1200 420,1270 M515,1010 Q580,1070 590,1180"/>
</g>

<g id="headlampL" transform="translate(180,1150) scale(0.40031)">
<!-- housing back -->
<path class="w" d="M655,190 L690,225 L750,240 Q790,225 820,250 L835,285 L815,300 L990,560 L1045,572 L1060,650 L1060,790 L995,840 L995,930 L545,1290 L470,1270 L600,900 L640,830 L620,700 L650,400 Z"/>
<path class="w" d="M1060,650 L1085,630 L1122,660 L1078,692 L1060,690 Z"/>
<path class="l" d="M620,720 L1045,572 M640,420 L815,300 M512,500 L640,440 M645,470 L870,362 M505,600 L625,545 M630,590 L905,455 M495,690 L618,640 M490,790 L625,730 M505,870 L640,805 M540,1085 L970,860 L965,815 L585,1060 M510,1145 L995,880 M520,1235 L990,935 M480,1215 L510,1200 L520,1290"/>
<path class="h" d="M590,1058 L965,815 M520,1232 L985,935 M640,475 L705,455 M640,585 L745,540 M990,530 L1000,560"/>
<!-- connector tab -->
<path class="w" d="M920,470 L995,435 L1035,490 L990,530 L945,500 Z"/>
<path class="w" d="M895,455 L925,445 L942,470 L920,485 Z"/>
<!-- lens -->
<path class="w" d="M530,205 Q470,350 400,560 Q320,780 290,950 Q275,1150 335,1295 L362,1330 L400,1320 L600,900 L580,830 L570,700 L580,560 L600,400 L600,140 Z"/>
<path class="l" d="M530,205 L515,400 L490,700 Q490,830 520,900 L480,1000 L345,1310 M520,215 L505,400 L480,700 Q480,840 508,900"/>
<path class="t" d="M560,905 L378,1322"/>
<path class="l" d="M512,500 L600,455 M505,600 L585,560 M495,690 L572,655 M490,790 L578,745 M505,870 L588,828"/>
<!-- seal strip -->
<path class="w" d="M585,160 L625,125 L660,118 L665,180 L650,400 L625,560 L620,700 L640,830 L600,900 L400,1320 L370,1322 L590,890 L580,830 L570,700 L580,560 L600,400 L600,160 Z"/>
<path class="h" style="stroke-width:3.6" d="M600,165 L602,400 L582,560 L572,700 L582,830 L592,888 L372,1320"/>
<path class="h" d="M612,150 L612,400 L592,560 L584,700 L594,830 L600,885 L385,1320 M606,160 L607,400 L587,560 L578,700 L588,830 L596,886"/>
<path class="l" d="M625,130 L625,400 L605,560 L598,700 L612,830 M620,265 L655,258 M618,330 L652,320 M585,735 L620,722 M595,800 L630,790 M600,820 L635,812"/>
<path class="w" d="M565,525 L610,505 L618,580 L605,610 L560,600 Z"/>
<circle class="l" cx="585" cy="540" r="11"/>
<path class="l" d="M618,580 L690,545 L685,560 L625,600 M640,575 L745,540"/>
<!-- bottom -->
<path class="w" d="M362,1330 L520,1300 L578,1385 L600,1432 L562,1420 L500,1450 L395,1432 Z"/>
<path class="l" d="M380,1345 Q420,1400 400,1430 M395,1340 L520,1318 M480,1385 L530,1370 L540,1395 L490,1408 Z M505,1345 L560,1385"/>
<!-- screws / clips -->
<ellipse class="w" cx="160" cy="360" rx="17" ry="25" transform="rotate(-20 160 360)"/>
<path class="w" d="M180,350 L232,368 Q240,380 232,392 L175,378 Z"/>
<path class="t" d="M152,352 L166,366"/>
<path class="w" d="M300,402 L360,385 L366,440 L345,445 L340,425 L320,432 L322,452 L300,456 Z"/>
<path class="l" d="M300,402 L312,420 L340,412"/>
<path class="d" d="M238,388 L298,418"/>
<path class="d" style="stroke-dasharray:14 4 3 4" d="M362,445 L560,530"/>
<path class="w" d="M28,765 Q38,755 48,768 L52,800 Q40,808 30,798 Z"/>
<path class="w" d="M50,772 L102,785 Q110,795 104,808 L52,798 Z"/>
<path class="w" d="M165,812 L195,782 L215,790 L237,850 L195,872 L180,850 Z"/>
<circle class="w" cx="228" cy="850" r="9"/>
<path class="l" d="M195,782 L205,830 L237,850"/>
<path class="d" d="M110,800 L160,822"/>
<path class="t" d="M238,856 L300,880"/>
<path class="w" d="M345,1492 L395,1480 L422,1530 L410,1548 L382,1556 Z"/>
<path class="h" d="M360,1505 L400,1535 M365,1520 L395,1548 M385,1500 L415,1525"/>
<path class="w" d="M395,1495 L412,1490 L418,1510 L402,1515 Z"/>
<path class="d" d="M480,1420 L415,1495 M378,1555 L330,1612"/>
</g>

<g id="headlampR" transform="translate(420,1380) scale(0.36943)">
<!-- back housing top -->
<path class="w" d="M300,735 L340,680 L420,650 L640,600 L720,490 L930,430 L960,462 L1130,430 L1240,440 L1275,425 L1310,432 L1380,452 Q1425,455 1428,500 Q1425,540 1398,548 L1330,640 L1280,760 L1220,862 L990,1010 L1030,1090 L1000,1140 L880,1172 L830,1150 Z"/>
<path class="w" d="M1000,402 L1028,398 L1005,462 L985,462 Z"/>
<path class="l" d="M930,430 L935,470 L880,520 L760,560 M960,462 L1000,470 L1080,470 L1150,445 M1080,470 L1060,500 M920,450 L960,462 M420,650 L470,640 L480,660 M400,660 L520,640 L530,665 M450,720 L580,670 L860,560 L1150,500 M520,700 L640,650 M1100,832 L1225,760 L1215,800 L1110,872 Z M1030,960 L1190,870 M990,1010 L1000,980 M1240,620 L1330,640 M1180,700 L1290,740"/>
<path class="h" d="M1105,850 L1220,782 M1060,940 L1140,895 M500,640 L540,630 M1150,490 L1260,470"/>
<!-- bracket with screw -->
<path class="w" d="M638,520 L720,490 L752,578 L668,612 Z"/>
<path class="l" d="M720,490 L800,505 L880,520 M752,578 L800,540"/>
<circle class="w" cx="700" cy="550" r="21"/><circle class="l" cx="700" cy="550" r="12"/><path class="l" d="M688,550 L712,550"/>
<!-- lens -->
<path class="w" d="M290,735 Q420,725 560,702 L1275,550 L745,1135 L782,1150 L830,1150 Q450,1228 75,1180 L45,1165 L268,745 Z"/>
<path class="l" d="M290,735 L75,1178 M330,700 Q450,705 600,672"/>
<path class="h" d="M268,745 L45,1165 M75,1180 Q450,1228 830,1150 M330,692 L700,602 L1150,492 L1380,455"/>
<path class="l" d="M310,725 L690,625 L1160,515 L1360,478 M560,702 L700,640 L1270,535"/>
<!-- right strip -->
<path class="h" d="M1385,460 L842,1082 M1400,545 L872,1100 M1380,455 Q1425,460 1426,500 Q1424,538 1400,545"/>
<path class="l" d="M1275,550 L745,1135 M1360,478 L815,1085 M1330,520 L790,1110"/>
<path class="h" style="stroke-width:4" d="M1372,470 L855,1062"/>
<!-- clip & slot -->
<path class="w" d="M820,1080 L860,1068 L866,1130 L826,1136 Z"/>
<path class="l" d="M832,1085 L836,1130 M846,1080 L850,1128"/>
<path class="w" d="M940,1122 L992,1104 Q1008,1106 1002,1120 L948,1142 Q930,1140 940,1122 Z"/>
<!-- bottom bezel -->
<path class="w" d="M215,1215 L150,1310 L240,1330 Q600,1322 800,1250 L880,1172 L830,1150 Q500,1215 215,1215 Z"/>
<path class="l" d="M240,1290 Q480,1285 680,1255 L800,1215 M240,1290 L240,1330 M200,1290 L185,1320 M680,1255 L680,1295 M215,1215 L195,1200"/>
<!-- dot -->
<circle class="k" cx="550" cy="1153" r="14"/>
<!-- top screw & clip -->
<circle class="w" cx="585" cy="290" r="27"/><circle class="t" cx="585" cy="290" r="14"/>
<path class="w" d="M695,236 L745,224 L776,300 L730,326 Z"/>
<circle class="h" cx="742" cy="288" r="15"/>
<!-- right screw & clip -->
<path class="w" d="M1035,1176 L1110,1140 L1136,1180 L1066,1236 L1040,1215 Z"/>
<path class="h" d="M1060,1190 L1095,1178 M1062,1205 L1098,1192 M1068,1220 L1085,1210"/>
<path class="w" d="M1150,1244 L1165,1238 L1195,1275 L1182,1285 Z"/>
<circle class="w" cx="1210" cy="1300" r="25"/>
<path class="t" d="M1200,1300 L1222,1300 M1211,1289 L1211,1311 M1203,1292 L1219,1308 M1219,1292 L1203,1308"/>
<path class="l" d="M1002,1122 L1050,1170 M1100,1210 L1150,1244"/>
<!-- bottom-left clip -->
<path class="w" d="M40,1312 L75,1300 L110,1370 L82,1386 Z"/>
<path class="h" d="M52,1325 L95,1362 M60,1345 L100,1378 M75,1350 L112,1365"/>
<path class="w" d="M92,1322 L108,1318 L114,1338 L98,1342 Z"/>
<path class="d" d="M180,1235 L105,1322 M70,1382 L0,1445"/>
</g>

<g id="cluster" transform="translate(1150,820) scale(0.17241)">
<!-- body -->
<path class="w" d="M140,100 L175,75 L1000,500 L1450,800 Q1700,1000 1790,1160 Q1850,1280 1835,1330 Q1820,1400 1760,1440 L1650,1482 L1500,1480 L1400,1420 L920,1132 L840,1215 L730,1140 L600,955 L430,850 L250,680 L60,540 L35,470 L28,330 Z"/>
<path class="l" d="M145,132 L980,540 L1420,832 Q1650,1020 1745,1175 Q1795,1290 1785,1330 M175,135 L60,340 M175,135 L640,380 M640,380 L700,420 L1160,700 M1250,780 L1560,1060"/>
<path class="h" style="stroke-width:3.6" d="M30,330 L640,640 L1180,940 L1600,1340 L1640,1470"/>
<path class="l" d="M45,360 L640,665 L1170,962 L1580,1350 M60,540 Q80,440 180,430 L440,560 M220,500 L440,610 L640,690 L860,830 M440,610 Q470,650 520,660 L860,850 L1180,1040 L1500,1340 M1180,1040 Q1230,1080 1210,1110 L1400,1420 M1400,1320 Q1430,1280 1480,1300 L1560,1360 M1280,1130 L1400,1190 M870,840 L880,870 L1160,1030"/>
<!-- right end -->
<path class="l" d="M1640,1470 Q1720,1440 1760,1390 M1400,1330 Q1420,1440 1500,1480 M1560,1360 Q1600,1420 1560,1480 M1790,1280 L1740,1310 L1650,1440"/>
<!-- mount circle -->
<g transform="rotate(32 165 590)"><ellipse class="w" cx="165" cy="590" rx="125" ry="85"/><ellipse class="k" cx="150" cy="595" rx="75" ry="45"/><ellipse cx="150" cy="595" rx="45" ry="25" fill="#fff"/></g>
<!-- clips -->
<path class="h" d="M320,262 L420,292 L390,362 L300,322 Z M1110,722 L1210,762 L1180,832 L1090,782 Z M1570,1072 L1670,1102 L1640,1172 L1550,1132 Z"/>
<path class="l" d="M345,290 L395,305 L378,340 L330,322 Z M1135,748 L1185,765 L1168,800 L1120,782 Z M1595,1098 L1645,1115 L1628,1150 L1580,1132 Z"/>
<path class="l" d="M200,232 L262,242 L240,340 L180,330 Z M215,260 L250,268 M210,290 L245,298 M1230,820 L1300,838 L1265,940 L1200,920 Z M1240,850 L1285,862 M1232,880 L1278,892 M1620,1200 L1670,1215 L1640,1300 L1590,1285 Z"/>
<path class="l" d="M720,332 Q740,310 775,322 L795,350 M1000,492 Q1030,470 1065,485 L1085,515 M480,300 L490,330 L470,360 M560,345 L640,370 L630,395 L575,385 M930,560 L1010,585 L1000,615 L945,605 M1060,640 L1075,660 L1050,690 M700,420 L640,520 M770,470 L650,640 M860,520 L800,620 M700,540 L760,555 L740,590 M1290,790 L1260,850 M1380,850 L1310,960 M1560,1000 L1540,1040 M1700,1230 L1660,1300 M1380,850 L1400,860"/>
<path class="h" d="M270,230 L350,255 M820,395 L950,440 M1380,850 L1310,950 M1160,840 L1165,860"/>
<!-- connector below -->
<path class="w" d="M690,842 L790,890 L940,1090 L840,1215 L730,1140 L600,960 Z"/>
<path class="l" d="M690,842 L720,860 L640,985 M760,880 L680,1010 L770,1100 L840,1215 M790,890 L720,1030 M770,1100 L800,1075 L825,1100 L800,1130 M620,985 L740,1130"/>
</g>

<g id="harness" transform="translate(850,800) scale(0.43103)">
<defs><pattern id="hatch" width="14" height="14" patternUnits="userSpaceOnUse" patternTransform="rotate(35)"><rect width="14" height="14" fill="#fff"/><path d="M0,7 L14,7 M7,0 L7,14" stroke="#111" stroke-width="7.5"/></pattern></defs>
<path class="tb" stroke-width="27.8" style="stroke-linecap:round" d="M760,1010 Q770,1080 840,1130 Q900,1150 960,1120"/>
<path class="tw" stroke-width="24.2" style="stroke-linecap:round" d="M760,1010 Q770,1080 840,1130 Q900,1150 960,1120"/>
<path class="tb" stroke-width="27.8" style="stroke-linecap:round" d="M800,1000 Q800,880 870,800 Q930,690 985,715 Q1020,760 960,860 L900,980"/>
<path class="tw" stroke-width="24.2" style="stroke-linecap:round" d="M800,1000 Q800,880 870,800 Q930,690 985,715 Q1020,760 960,860 L900,980"/>
<path class="tb" stroke-width="23.8" style="stroke-linecap:round" d="M870,1000 Q890,900 960,830 L1000,800"/>
<path class="tw" stroke-width="20.2" style="stroke-linecap:round" d="M870,1000 Q890,900 960,830 L1000,800"/>
<path class="tb" stroke-width="13.8" style="stroke-linecap:round" d="M905,770 Q1000,792 1100,800 L1330,808 Q1378,815 1392,852"/>
<path class="tw" stroke-width="10.2" style="stroke-linecap:round" d="M905,770 Q1000,792 1100,800 L1330,808 Q1378,815 1392,852"/>
<path class="tb" stroke-width="12.8" style="stroke-linecap:round" d="M1330,830 Q1330,900 1380,960"/>
<path class="tw" stroke-width="9.2" style="stroke-linecap:round" d="M1330,830 Q1330,900 1380,960"/>
<path class="tb" stroke-width="18.8" style="stroke-linecap:round" d="M960,1100 Q1080,1060 1180,1000 L1290,960"/>
<path class="tw" stroke-width="15.2" style="stroke-linecap:round" d="M960,1100 Q1080,1060 1180,1000 L1290,960"/>
<path class="tb" stroke-width="12.8" style="stroke-linecap:round" d="M1180,1075 Q1195,1150 1250,1165"/>
<path class="tw" stroke-width="9.2" style="stroke-linecap:round" d="M1180,1075 Q1195,1150 1250,1165"/>
<path class="w" d="M1240,1070 L1300,1050 L1310,1100 L1250,1120 Z"/>
<path class="l" d="M1250,1085 L1300,1068"/>
<path class="w" d="M1060,1105 L1160,1085 L1175,1130 L1075,1150 Z"/>
<path class="l" d="M1080,1120 L1160,1102"/>
<path class="tb" stroke-width="18.8" style="stroke-linecap:round" d="M735,870 L960,1100 L1300,1340 Q1380,1395 1440,1390"/>
<path class="tw" stroke-width="15.2" style="stroke-linecap:round" d="M735,870 L960,1100 L1300,1340 Q1380,1395 1440,1390"/>
<path class="tb" stroke-width="13.8" style="stroke-linecap:round" d="M1130,1225 L1290,1320"/>
<path class="tw" stroke-width="10.2" style="stroke-linecap:round" d="M1130,1225 L1290,1320"/>
<path class="tb" stroke-width="11.8" style="stroke-linecap:round" d="M1230,1180 L1300,1340"/>
<path class="tw" stroke-width="8.2" style="stroke-linecap:round" d="M1230,1180 L1300,1340"/>
<path class="tb" stroke-width="14.8" style="stroke-linecap:round" d="M1420,1392 Q1520,1395 1620,1340 Q1760,1270 1879,1265 Q1940,1268 1982,1284 Q2020,1296 2045,1320 L2085,1356 Q2112,1372 2133,1349 L2143,1325 Q2155,1308 2181,1308 Q2236,1300 2291,1268 L2586,1081"/>
<path class="tw" stroke-width="11.2" style="stroke-linecap:round" d="M1420,1392 Q1520,1395 1620,1340 Q1760,1270 1879,1265 Q1940,1268 1982,1284 Q2020,1296 2045,1320 L2085,1356 Q2112,1372 2133,1349 L2143,1325 Q2155,1308 2181,1308 Q2236,1300 2291,1268 L2586,1081"/>
<path class="tb" stroke-width="12.8" style="stroke-linecap:round" d="M1962,1292 Q1935,1340 1975,1385 L2035,1418"/>
<path class="tw" stroke-width="9.2" style="stroke-linecap:round" d="M1962,1292 Q1935,1340 1975,1385 L2035,1418"/>
<path class="w" d="M2027,1414 L2051,1397 L2137,1438 L2141,1486 L2113,1507 L2027,1452 Z"/>
<path class="l" d="M2027,1414 L2055,1432 L2137,1438 M2055,1432 L2058,1470 L2113,1507 M2058,1470 L2027,1452 M2075,1420 L2110,1430 M2070,1480 L2105,1498"/>
<path class="h" d="M2062,1448 L2120,1470 M2085,1495 L2135,1475"/>
<path class="tb" stroke-width="21.8" style="stroke-linecap:round" d="M480,770 Q560,820 640,800"/>
<path class="tw" stroke-width="18.2" style="stroke-linecap:round" d="M480,770 Q560,820 640,800"/>
<path class="tb" stroke-width="12.8" style="stroke-linecap:round" d="M385,862 Q440,845 490,880 L580,905"/>
<path class="tw" stroke-width="9.2" style="stroke-linecap:round" d="M385,862 Q440,845 490,880 L580,905"/>
<path class="tb" stroke-width="12.8" style="stroke-linecap:round" d="M600,1060 Q690,1110 800,1125"/>
<path class="tw" stroke-width="9.2" style="stroke-linecap:round" d="M600,1060 Q690,1110 800,1125"/>
<path class="tb" stroke-width="12.8" style="stroke-linecap:round" d="M700,1150 Q800,1170 900,1150"/>
<path class="tw" stroke-width="9.2" style="stroke-linecap:round" d="M700,1150 Q800,1170 900,1150"/>
<path class="tb" stroke-width="11.8" style="stroke-linecap:round" d="M610,1040 Q570,1090 565,1150"/>
<path class="tw" stroke-width="8.2" style="stroke-linecap:round" d="M610,1040 Q570,1090 565,1150"/>
<path class="tb" stroke-width="16.8" style="stroke-linecap:round" d="M612,612 Q640,555 690,558 Q730,565 728,640 L724,790"/>
<path class="tw" stroke-width="13.2" style="stroke-linecap:round" d="M612,612 Q640,555 690,558 Q730,565 728,640 L724,790"/>
<path class="w" d="M335,418 L440,468 L330,610 L360,700 L300,690 L238,548 Z"/>
<path class="l" d="M250,545 L345,432 M238,548 L330,610"/>
<path class="w" d="M440,465 L522,528 L500,562 L405,692 L392,730 L355,705 L318,612 Z"/>
<path class="l" d="M452,492 L505,535 L395,690 L340,612 Z M395,548 L408,542 L412,556 L400,562 Z M368,578 L400,602 M360,590 L392,614 M405,692 L440,720 L470,770"/>
<path d="M505,520 L578,592 L560,628 L487,765 L455,760 L400,690 L440,600 Z" fill="url(#hatch)" stroke="#111" stroke-width="2" vector-effect="non-scaling-stroke"/>
<path class="w" d="M588,575 L660,612 L612,705 L548,665 Z"/>
<path class="l" d="M600,600 L640,622 L600,690 M620,588 L575,672"/>
<path class="l" d="M355,705 L380,760 L430,800 L480,790 M392,730 L420,770"/>
<path class="h" d="M470,775 L500,800 L520,790 M480,760 L520,800"/>
<path class="tb" stroke-width="6.0" style="stroke-linecap:round" d="M285,655 Q160,720 130,790 Q118,840 122,872"/>
<path class="tw" stroke-width="3.0" style="stroke-linecap:round" d="M285,655 Q160,720 130,790 Q118,840 122,872"/>
<circle class="w" cx="130" cy="905" r="21"/><circle class="l" cx="130" cy="905" r="11"/>
<path class="w" d="M114,850 L132,850 L134,880 L116,880 Z"/>
<path class="w" d="M258,848 L345,795 L385,835 L388,885 L300,915 L268,905 Z"/>
<path class="l" d="M258,848 L295,870 L385,835 M295,870 L300,915 M270,862 L272,900 M310,865 L380,842 M312,880 L385,858 M314,895 L386,872"/>
<path class="tb" stroke-width="25.8" style="stroke-linecap:round" d="M960,1120 Q1000,1060 940,1000 Q880,960 900,880"/>
<path class="tw" stroke-width="22.2" style="stroke-linecap:round" d="M960,1120 Q1000,1060 940,1000 Q880,960 900,880"/>
<path class="tb" stroke-width="23.8" style="stroke-linecap:round" d="M840,1135 Q800,1060 840,980 L900,880"/>
<path class="tw" stroke-width="20.2" style="stroke-linecap:round" d="M840,1135 Q800,1060 840,980 L900,880"/>
<path class="w" d="M825,1178 L915,1125 L950,1165 L945,1215 L860,1242 L832,1225 Z"/>
<path class="l" d="M825,1178 L862,1200 L950,1165 M862,1200 L860,1242 M838,1190 L838,1228 M875,1200 L945,1175 M878,1215 L946,1190 M880,1230 L946,1205"/>
<path class="tb" stroke-width="6.0" style="stroke-linecap:round" d="M905,1235 L872,1400"/>
<path class="tw" stroke-width="3.0" style="stroke-linecap:round" d="M905,1235 L872,1400"/>
<circle class="w" cx="865" cy="1440" r="22"/><circle class="l" cx="865" cy="1440" r="11"/>
<path class="w" d="M864,1385 L882,1388 L876,1420 L858,1416 Z"/>
<path class="w" d="M1030,1195 L1075,1175 L1130,1215 L1120,1240 L1060,1250 Z"/>
<path class="l" d="M1040,1210 L1080,1195 L1120,1225 M1020,1230 L1060,1260 M1035,1245 L1055,1265"/>
<path class="h" d="M1045,1215 L1070,1240"/>
<circle class="l" cx="1125" cy="1228" r="9"/>
<path class="w" d="M1258,1465 L1345,1380 L1435,1440 L1422,1500 L1345,1548 L1275,1502 Z"/>
<path class="l" d="M1258,1465 L1290,1478 L1375,1400 M1290,1478 L1345,1548 M1300,1440 L1340,1465 L1400,1418 M1340,1465 L1372,1520 L1422,1500 M1310,1500 L1360,1470 M1352,1395 L1385,1415"/>
<path class="tb" stroke-width="11.8" style="stroke-linecap:round" d="M1400,1400 Q1440,1395 1420,1440"/>
<path class="tw" stroke-width="8.2" style="stroke-linecap:round" d="M1400,1400 Q1440,1395 1420,1440"/>
</g>
<g id="regulator" transform="translate(1130,1430) scale(0.17857)">
<path class="w" d="M1095,440 L1190,350 L1400,480 L1400,540 L1330,600 Z"/>
<path class="w" d="M1330,590 L1430,510 L1670,670 L1660,720 L1590,780 Z"/>
<path class="l" d="M1190,350 L1210,420 L1130,470 M1400,480 L1320,560 M1430,510 L1440,570 L1370,620 M1670,670 L1590,740 M1260,440 L1180,520 M1320,470 L1250,560 M1500,590 L1430,680 M1580,640 L1510,730"/>
<path class="h" d="M1215,390 L1190,470 M1260,415 L1235,500 M1300,440 L1278,520 M1450,560 L1425,630 M1490,585 L1470,660 M1530,610 L1510,690"/>
<path class="w" d="M1020,445 L1100,470 L1590,790 L1612,860 L1235,1290 L1095,1352 L660,1078 L625,985 L780,790 L870,660 Z"/>
<path class="l" d="M1235,1290 L1225,1230 M1612,860 L1560,800 L1240,1180 M1095,1352 L1085,1290 L650,1010 M1085,1290 L1225,1230"/>
<path class="w" d="M1020,445 L1055,437 L1535,807 L1520,860 L1500,865 L1025,485 Z"/>
<path class="h" d="M1028,451 L1505,820"/>
<path class="l" d="M1025,473 L1502,847 M1505,820 L1500,865"/>
<path class="w" d="M964,522 L999,514 L1479,884 L1464,937 L1444,942 L969,562 Z"/>
<path class="h" d="M972,528 L1449,897"/>
<path class="l" d="M969,550 L1446,924 M1449,897 L1444,942"/>
<path class="w" d="M908,599 L943,591 L1273,921 L1258,974 L1238,979 L913,639 Z"/>
<path class="h" d="M916,605 L1243,934"/>
<path class="l" d="M913,627 L1240,961 M1243,934 L1238,979"/>
<path class="w" d="M852,676 L887,668 L1217,998 L1202,1051 L1182,1056 L857,716 Z"/>
<path class="h" d="M860,682 L1187,1011"/>
<path class="l" d="M857,704 L1184,1038 M1187,1011 L1182,1056"/>
<path class="w" d="M796,753 L831,745 L1311,1115 L1296,1168 L1276,1173 L801,793 Z"/>
<path class="h" d="M804,759 L1281,1128"/>
<path class="l" d="M801,781 L1278,1155 M1281,1128 L1276,1173"/>
<path class="w" d="M740,830 L775,822 L1255,1192 L1240,1245 L1220,1250 L745,870 Z"/>
<path class="h" d="M748,836 L1225,1205"/>
<path class="l" d="M745,858 L1222,1232 M1225,1205 L1220,1250"/>
<path class="w" d="M684,907 L719,899 L1199,1269 L1184,1322 L1164,1327 L689,947 Z"/>
<path class="h" d="M692,913 L1169,1282"/>
<path class="l" d="M689,935 L1166,1309 M1169,1282 L1164,1327"/>
<path class="w" d="M628,984 L663,976 L1143,1346 L1128,1399 L1108,1404 L633,1024 Z"/>
<path class="h" d="M636,990 L1113,1359"/>
<path class="l" d="M633,1012 L1110,1386 M1113,1359 L1108,1404"/>
<path class="l" d="M1040,600 L1240,960 L1150,760 L1190,1020 M900,830 L870,740"/>
<circle class="w" cx="880" cy="775" r="25"/><circle class="w" cx="1290" cy="1030" r="30"/>
<path class="t" d="M1290,1030 L1310,1010"/>
<ellipse class="w" cx="575" cy="270" rx="66" ry="50" style="stroke-width:2.6"/>
<ellipse class="w" cx="570" cy="245" rx="55" ry="45" style="stroke-width:2.6"/>
<ellipse class="h" cx="565" cy="232" rx="30" ry="24"/>
<path class="l" d="M515,250 L520,285 M625,250 L633,280 M555,290 L557,318"/>
<ellipse class="w" cx="910" cy="355" rx="66" ry="50" style="stroke-width:2.6"/>
<ellipse class="w" cx="905" cy="330" rx="55" ry="45" style="stroke-width:2.6"/>
<ellipse class="h" cx="900" cy="317" rx="30" ry="24"/>
<path class="l" d="M850,335 L855,370 M960,335 L968,365 M890,375 L892,403"/>
<path class="d" d="M620,330 L740,530 M770,585 L880,775"/>
<path class="d" d="M940,400 L1010,520 M1075,640 L1270,990"/>
</g>
<g id="center" transform="translate(1040,1110) scale(0.13548)">
<!-- tube to lower-left pigtail -->
<path class="tb" stroke-width="11.5" d="M450,950 Q400,1100 390,1200 L340,1310"/>
<path class="tw" stroke-width="8" d="M450,950 Q400,1100 390,1200 L340,1310"/>
<!-- horizontal tube -->
<path class="tb" stroke-width="10" d="M560,1205 Q700,1200 820,1180 L1080,1125"/>
<path class="tw" stroke-width="6.5" d="M560,1205 Q700,1200 820,1180 L1080,1125"/>
<!-- lower arcs -->
<path class="l" d="M720,1290 Q800,1400 950,1400 Q1080,1390 1150,1290 M800,1330 Q900,1380 1000,1350 M700,1230 Q760,1300 830,1270 Q860,1240 840,1220"/>
<!-- hose right of grommet -->
<path class="w" d="M740,810 L880,690 Q950,680 980,760 L850,900 L790,935 Z"/>
<path class="l" d="M880,690 Q920,760 850,900 M720,830 Q790,900 745,1000 M755,815 Q820,900 775,985"/>
<!-- bracket -->
<path class="w" d="M610,1050 L800,990 L890,1030 L900,1110 L760,1180 L620,1140 Z"/>
<ellipse class="l" cx="825" cy="1080" rx="30" ry="20" transform="rotate(30 825 1080)"/>
<path class="l" d="M620,1060 L640,1150 M680,1080 L690,1160 M720,1100 L725,1170 M800,990 L830,920 L860,930 L890,1030"/>
<path class="h" d="M500,1000 L520,1080 M540,1010 L560,1100 M580,1030 L600,1130 M490,1120 L520,1220 M500,1180 L560,1200 M660,1240 L800,1250"/>
<path class="l" d="M350,1060 L420,1040 L480,1080 L470,1120 L400,1130 L350,1100 Z"/>
<!-- grommet -->
<circle class="w" cx="590" cy="900" r="132"/>
<path class="l" d="M470,850 Q560,960 700,900"/>
<!-- main connector body -->
<path class="w" d="M520,225 L600,240 Q700,290 760,390 L900,560 L870,640 L660,850 L600,830 L500,700 L420,590 L440,330 Z"/>
<path class="l" d="M440,330 L520,320 L640,420 L600,600 L520,700 M640,420 L760,390 M600,600 L700,720 L870,640 M700,720 L660,850 M520,320 L560,250 M460,420 L560,500 M450,500 L540,580 M440,560 L520,640"/>
<path class="h" d="M440,330 Q480,300 520,320 M470,380 L590,470 M560,250 Q660,300 720,400 M520,700 L640,830 M540,690 L650,800 M690,500 L720,520 L680,570 M760,480 L800,510 L740,600 M620,640 L680,560 M650,690 L740,610 M800,700 L860,640 M700,760 L820,690"/>
<!-- upper block -->
<path class="w" d="M610,225 L710,115 L850,215 L990,420 L905,540 L760,345 Z"/>
<path class="l" d="M640,220 L735,135 M680,250 L775,160 M720,290 L810,195 M850,215 L745,335"/>
<path d="M745,335 L850,215 L870,240 L770,365 Z" fill="#111"/>
<path class="h" d="M590,250 Q680,280 740,350"/>
<!-- left small connector -->
<path class="w" d="M235,610 L330,590 L420,700 L420,790 L360,820 L250,705 Z"/>
<path class="l" d="M235,610 L260,650 L350,760 L360,820 M260,650 L340,630 M280,680 L370,660 M300,710 L390,690"/>
<path class="h" d="M255,625 L330,605 M360,760 L415,740 M380,800 L420,770 M390,720 L430,800"/>
<!-- thin lines from upper-left -->
<path class="l" d="M0,380 L250,480 M0,300 L420,440 M70,540 L210,600 M90,300 L250,400 L250,480"/>
<path class="h" d="M70,150 L210,240 M100,120 L260,230 M200,230 L420,330 M240,300 L400,400"/>
<!-- pigtail connector bottom-left -->
<path class="w" d="M210,1350 L300,1290 L470,1335 L440,1480 L400,1530 L330,1624 L180,1600 L215,1450 Z"/>
<path class="l" d="M300,1290 L290,1340 L440,1380 M290,1340 L230,1440 M250,1500 L230,1600 M330,1520 L300,1624 M100,1500 L215,1480 M150,1500 L200,1380"/>
<path d="M220,1420 L430,1470 L415,1530 L215,1480 Z" fill="#111"/>
</g>

<g id="relay" transform="translate(1380,1150) scale(0.10471)">
<!-- tube loop -->
<path class="tb" stroke-width="10" d="M430,330 Q400,150 520,120 L640,190"/>
<path class="tw" stroke-width="6.5" d="M430,330 Q400,150 520,120 L640,190"/>
<!-- small connector top right -->
<path class="w" d="M630,190 L760,100 L940,290 L900,370 L830,400 Z"/>
<path class="l" d="M700,150 L880,340 M630,190 L660,240 L830,400 M720,120 L790,190 L730,240"/>
<path class="h" d="M650,210 L780,130 M690,240 L800,170"/>
<!-- cluster blocks -->
<path class="w" d="M140,420 L300,250 L330,330 L600,420 L740,480 L1030,620 L1090,800 L1040,900 L950,980 L560,790 L330,1130 L250,900 L120,560 Z"/>
<path class="l" d="M140,420 L200,470 L330,330 M200,470 L250,560 L520,540 L600,420 M250,560 L440,680 L560,790 M440,680 L600,600 M820,560 L1000,640 L1020,760 L850,700 Z M640,420 L720,400 L740,480 M600,600 L760,860 M680,470 L860,830"/>
<path d="M300,330 L420,320 L440,500 L330,520 Z M600,600 L760,640 L740,780 L600,760 Z M330,860 L500,840 L480,920 L320,930 Z" fill="#111"/>
<path class="h" d="M120,560 L250,520 M20,640 L140,580 M330,760 L520,690 M300,800 L520,720 M860,760 L1060,800 M940,880 L1000,960"/>
<path class="k" d="M880,860 L840,770 L930,800 Z"/>
<!-- big module box -->
<path class="w" d="M330,1130 L560,790 L950,980 L1020,1010 L1140,1070 L1090,1320 L970,1310 L950,1350 L290,1480 L210,1430 L250,1180 Z"/>
<path class="l" d="M330,1130 L1020,1010 L950,1350 M330,1130 L290,1480 M250,1180 L330,1130 M560,790 L520,1080 M1020,1010 L970,1310"/>
<path d="M1030,1040 L1135,1075 L1088,1315 L985,1300 Z" fill="#333"/>
<!-- left bits -->
<path class="l" d="M0,950 L230,880 M20,1000 L250,1180 M30,1100 L220,1250 M30,1180 L215,1330 M60,960 L40,1280 M130,980 L120,1080 L200,1100"/>
</g>

<g id="tether" transform="translate(1800,1500) scale(0.24631)">
<ellipse class="l" cx="1085.0" cy="125.0" rx="22" ry="66" transform="rotate(37.2 1085.0 125.0)" style="stroke-width:2.2"/>
<ellipse class="l" cx="1109.7" cy="143.8" rx="22" ry="66" transform="rotate(37.2 1109.7 143.8)" style="stroke-width:2.2"/>
<ellipse class="l" cx="1134.4" cy="162.5" rx="22" ry="66" transform="rotate(37.2 1134.4 162.5)" style="stroke-width:2.2"/>
<ellipse class="l" cx="1159.1" cy="181.2" rx="22" ry="66" transform="rotate(37.2 1159.1 181.2)" style="stroke-width:2.2"/>
<ellipse class="l" cx="1183.8" cy="200.0" rx="22" ry="66" transform="rotate(37.2 1183.8 200.0)" style="stroke-width:2.2"/>
<ellipse class="l" cx="1208.4" cy="218.8" rx="22" ry="66" transform="rotate(37.2 1208.4 218.8)" style="stroke-width:2.2"/>
<ellipse class="l" cx="1233.1" cy="237.5" rx="22" ry="66" transform="rotate(37.2 1233.1 237.5)" style="stroke-width:2.2"/>
<ellipse class="l" cx="1257.8" cy="256.2" rx="22" ry="66" transform="rotate(37.2 1257.8 256.2)" style="stroke-width:2.2"/>
<ellipse class="l" cx="1282.5" cy="275.0" rx="22" ry="66" transform="rotate(37.2 1282.5 275.0)" style="stroke-width:2.2"/>
<ellipse class="l" cx="1307.2" cy="293.8" rx="22" ry="66" transform="rotate(37.2 1307.2 293.8)" style="stroke-width:2.2"/>
<ellipse class="l" cx="1331.9" cy="312.5" rx="22" ry="66" transform="rotate(37.2 1331.9 312.5)" style="stroke-width:2.2"/>
<ellipse class="l" cx="1356.6" cy="331.2" rx="22" ry="66" transform="rotate(37.2 1356.6 331.2)" style="stroke-width:2.2"/>
<ellipse class="l" cx="1381.2" cy="350.0" rx="22" ry="66" transform="rotate(37.2 1381.2 350.0)" style="stroke-width:2.2"/>
<ellipse class="l" cx="1405.9" cy="368.8" rx="22" ry="66" transform="rotate(37.2 1405.9 368.8)" style="stroke-width:2.2"/>
<ellipse class="l" cx="1430.6" cy="387.5" rx="22" ry="66" transform="rotate(37.2 1430.6 387.5)" style="stroke-width:2.2"/>
<ellipse class="l" cx="1455.3" cy="406.2" rx="22" ry="66" transform="rotate(37.2 1455.3 406.2)" style="stroke-width:2.2"/>
<ellipse class="l" cx="1480.0" cy="425.0" rx="22" ry="66" transform="rotate(37.2 1480.0 425.0)" style="stroke-width:2.2"/>
<path class="tb" stroke-width="6.4" d="M1045,170 L900,300 Q860,330 835,385"/>
<path class="tw" stroke-width="3.6" d="M1045,170 L900,300 Q860,330 835,385"/>
<path class="l" d="M1010,185 L1030,205"/>
<path class="l" d="M800,400 Q790,340 850,320 L890,310 Q880,370 830,400 Z"/>
<circle class="l" cx="818" cy="398" r="12"/>
<path class="w" d="M722,395 L655,490 Q715,560 800,572 L860,462 Z"/>
<ellipse class="w" cx="791" cy="428" rx="76" ry="24" transform="rotate(25 791 428)"/>
<path class="h" d="M740,410 Q790,440 845,450"/>
<path class="t" d="M715,552 L612,720 M578,765 L490,905"/>
<ellipse class="w" cx="590" cy="740" rx="92" ry="30" transform="rotate(25 590 740)"/>
<ellipse class="l" cx="592" cy="738" rx="45" ry="11" transform="rotate(25 592 738)"/>
<path class="l" d="M510,712 Q560,770 668,790"/>
<path class="w" d="M325,990 L290,1060 Q350,1135 440,1145 L475,1075 Q420,1010 325,990 Z"/>
<path class="h" d="M325,990 Q330,1040 475,1075"/>
<path class="w" d="M400,955 L375,1005 Q420,1045 470,1050 L490,1000 Z"/>
<path class="h" d="M400,955 Q430,990 490,1000"/>
<path class="w" d="M435,905 L425,945 Q460,970 500,975 L510,935 Q470,905 435,905 Z"/>
<path class="l" d="M430,925 Q465,950 505,955"/>
<path class="l" d="M350,1120 Q300,1140 330,1165 Q370,1180 410,1150"/>
<path class="tb" stroke-width="9.0" d="M440,1150 L478,1300 Q490,1385 400,1380 Q340,1370 275,1295"/>
<path class="tw" stroke-width="6.0" d="M440,1150 L478,1300 Q490,1385 400,1380 Q340,1370 275,1295"/>
<path class="w" d="M105,1185 L180,1135 L235,1195 L262,1180 L285,1210 L262,1228 L300,1270 L232,1310 L200,1292 Z"/>
<path class="l" d="M105,1185 L135,1172 L150,1150 M135,1172 L215,1270 L232,1310 M215,1270 L285,1235 M225,1235 L260,1275 M225,1300 L270,1290"/>
<path class="h" d="M222,1305 L268,1292"/>
<path class="tb" stroke-width="6.4" d="M1425,470 L1300,610 Q1270,640 1262,660"/>
<path class="tw" stroke-width="3.6" d="M1425,470 L1300,610 Q1270,640 1262,660"/>
<path class="l" d="M1395,485 L1420,505"/>
<path class="l" d="M1230,660 L1092,890 Q1078,940 1130,942 L1285,705 Q1300,670 1262,655 Z M1245,690 L1120,895 Q1115,925 1140,918 L1262,720 M1262,720 Q1290,700 1262,680 M1180,850 L1210,850 L1195,895 L1150,905 Z"/>
</g>
<g id="frontarrow" transform="translate(1660,1000) scale(0.29564)">
<path class="w" style="stroke-width:1.6" d="M118,490 L352,112 L352,215 L588,85 L588,352 L352,485 L352,598 Z"/>
<text transform="translate(343,350) skewY(-27.2)" font-size="100" font-weight="bold" font-style="italic" stroke="#111" stroke-width="3.5" textLength="208" lengthAdjust="spacingAndGlyphs">Front</text>
<text transform="translate(326,452) skewY(-27.2)" font-size="100" font-weight="bold" font-style="italic" stroke="#111" stroke-width="3.5" textLength="232" lengthAdjust="spacingAndGlyphs">Avant</text>
</g>
<g id="tail23" transform="translate(1660,1000) scale(0.29564)">
<path class="w" d="M1015,880 L1100,822 L1155,850 L1150,892 L1080,945 L1030,915 Z"/>
<path class="l" d="M1015,880 L1050,900 L1080,945 M1050,900 L1140,840 M1040,870 L1065,885 M1060,858 L1085,872"/>
<path class="h" d="M1085,850 L1105,862 M1100,840 L1120,852 M1115,832 L1135,842 M1090,880 L1145,860 M1095,900 L1148,878"/>
<path class="t" d="M680,965 L765,1015 L765,1140 L900,1220"/>
</g>

<g id="leaders" class="t">
<path d="M832,179 L659,217.5"/>
<path d="M385,265.5 L289,421"/>
<path d="M551.5,290.5 L417.5,513"/>
<path d="M651.5,352.5 L679,494"/>
<path d="M1103,295.2 L1152.5,295.2"/>
</g>
<g transform="translate(1260,350) scale(0.19707)">
<path class="t" d="M1395,440 L1118,600 M1418,755 L1170,822 M345,825 L965,1095"/>
</g>
<g transform="translate(1680,300) scale(0.27711)">
<path class="t" d="M975,840 L900,945 M348,208 L425,163"/>
</g>
<g transform="translate(2420,230) scale(0.32029)">
<path class="t" d="M715,55 L640,95 M435,362 L360,400 M322,710 L347,805 M-52,1083 L72,1083 M-56,1250 L55,1250 M-75,1445 L42,1445"/>
</g>
<g transform="translate(1930,785) scale(0.27397)">
<path class="t" d="M1775,548 L1840,655 L1170,1055 L1130,985 M1510,870 L1580,990 M680,1265 L765,1410 M167,1235 L167,1335"/>
<path class="d" d="M640,858 L840,975 Q870,1000 915,1100"/>
<path class="d" style="stroke-dasharray:14 4 3 4" d="M425,930 L270,1370"/>
</g>
<g transform="translate(2510,870) scale(0.28329)">
<path class="t" d="M545,232 L590,385 M475,1030 L475,1130"/>
</g>
<g transform="translate(2510,1340) scale(0.30168)">
<path class="t" d="M685,190 L555,318 M690,985 Q650,995 620,1020"/>
</g>
<g transform="translate(190,800) scale(0.22213)">
<path class="t" d="M510,305 L680,305 M1850,660 L2020,660 M600,1222 L795,1222 M1518,1137 L1665,1137"/>
<path class="d" d="M585,645 L760,740"/>
</g>
<g transform="translate(180,1150) scale(0.40031)">
<path class="t" d="M170,200 L170,330 M330,225 L330,375 M82,645 L82,745 M210,685 L210,765 M652,60 L652,100 M285,1510 L340,1510"/>
</g>
<g transform="translate(420,1380) scale(0.36943)">
<path class="t" d="M550,1165 L550,1395 M1140,1160 L1185,1160 M1197,1335 L1197,1395 M665,85 L585,160 L585,255 M632,288 L725,288 M870,165 L765,245 M780,285 L835,285 L590,550 L665,560"/>
</g>
<g transform="translate(850,800) scale(0.43103)">
<path class="t" d="M1205,165 L1080,210 M975,515 L735,790 M1200,1624 L1285,1528"/>
<path class="k" d="M725,800 L738,765 L758,782 Z M1298,1515 L1290,1545 L1268,1530 Z"/>
</g>
<g transform="translate(1130,1430) scale(0.17857)">
<path class="t" d="M285,430 L495,315 M285,430 L845,375 M1455,1095 L1665,1215"/>
</g>
<g transform="translate(1800,1500) scale(0.24631)">
<path class="t" d="M520,335 L680,415 M360,620 L500,690 M490,1045 L640,1125 M500,1380 L650,1465 M140,1262 L0,1335"/>
</g>
<g transform="translate(1660,1000) scale(0.29564)">
<path class="t" d="M595,1225 L740,1470 M895,1528 L1020,1528"/>
</g>

<g id="longleaders">
<path class="t" d="M963,1190 L602.5,1341.3 M1197,1334.5 L821,1524 M1460,864.7 L1927,970 M1496.5,1267.7 Q1660,1500 1832,1781"/>
<path class="k" d="M599,1342.8 L613.5,1330.5 L618,1341 Z M817.5,1525.8 L831,1512.5 L836.5,1523 Z"/>
</g>
<g transform="translate(150,1150) scale(0.5234)">
<path class="t" d="M205,1268 L250,1268 M438,1495 L470,1495 M487,1385 L540,1385"/>
<path class="d" d="M300,1240 L345,1190 M520,1460 L575,1400"/>
<ellipse class="w" cx="268" cy="1270" rx="20" ry="11" transform="rotate(15 268 1270)"/>
<path class="w" d="M272,1258 L300,1228 Q312,1225 316,1236 L290,1268 Z"/>
<ellipse class="w" cx="490" cy="1498" rx="20" ry="11" transform="rotate(15 490 1498)"/>
<path class="w" d="M494,1486 L522,1456 Q534,1453 538,1464 L512,1496 Z"/>
</g>

<g id="labels">
<text x="856.0" y="187.5" font-size="33.5" textLength="38.0" lengthAdjust="spacingAndGlyphs">38</text>
<text x="259.0" y="465.0" font-size="33.5" textLength="36.0" lengthAdjust="spacingAndGlyphs">37</text>
<text x="275.5" y="552.5" font-size="33.5" textLength="235.5" lengthAdjust="spacingAndGlyphs">32,33,34,35,36</text>
<text x="600.5" y="549.5" font-size="33.5" textLength="184.5" lengthAdjust="spacingAndGlyphs">27,28,30,31</text>
<text x="1156.0" y="309.0" font-size="37" textLength="42.0" lengthAdjust="spacingAndGlyphs">29</text>
<text x="1541.0" y="440.5" font-size="33.5" textLength="39.0" lengthAdjust="spacingAndGlyphs">47</text>
<text x="1544.0" y="505.0" font-size="33.5" textLength="38.0" lengthAdjust="spacingAndGlyphs">49</text>
<text x="1281.5" y="525.0" font-size="33.5" textLength="38.5" lengthAdjust="spacingAndGlyphs">48</text>
<text x="1272.0" y="690.0" font-size="33.5" textLength="361.0" lengthAdjust="spacingAndGlyphs">Module air compressor</text>
<text x="1836.0" y="332.5" font-size="31" textLength="33.0" lengthAdjust="spacingAndGlyphs">19</text>
<text x="1924.5" y="342.5" font-size="32" textLength="218.5" lengthAdjust="spacingAndGlyphs">DC Power Outlet</text>
<text x="1903.0" y="596.0" font-size="33.5" textLength="35.0" lengthAdjust="spacingAndGlyphs">46</text>
<text x="2300.0" y="239.0" font-size="33" textLength="194.0" lengthAdjust="spacingAndGlyphs">Visor harness</text>
<text x="2654.0" y="246.0" font-size="33.5" textLength="36.0" lengthAdjust="spacingAndGlyphs">41</text>
<text x="2566.0" y="353.0" font-size="33.5" textLength="38.0" lengthAdjust="spacingAndGlyphs">40</text>
<text x="2514.0" y="521.0" font-size="33.5" textLength="40.0" lengthAdjust="spacingAndGlyphs">43</text>
<text x="2361.0" y="587.5" font-size="33.5" textLength="39.0" lengthAdjust="spacingAndGlyphs">39</text>
<text x="2626.0" y="587.5" font-size="33.5" textLength="38.0" lengthAdjust="spacingAndGlyphs">39</text>
<text x="2359.0" y="642.0" font-size="33.5" textLength="39.0" lengthAdjust="spacingAndGlyphs">44</text>
<text x="2355.0" y="702.5" font-size="33.5" textLength="37.0" lengthAdjust="spacingAndGlyphs">45</text>
<text x="2517.0" y="816.5" font-size="30" textLength="275.5" lengthAdjust="spacingAndGlyphs">Diagnostic Connector</text>
<text x="2634.0" y="844.0" font-size="30" textLength="49.0" lengthAdjust="spacingAndGlyphs">Cap</text>
<text x="2642.0" y="924.0" font-size="33.5" textLength="35.0" lengthAdjust="spacingAndGlyphs">20</text>
<text x="2627.0" y="1153.0" font-size="33.5" textLength="38.5" lengthAdjust="spacingAndGlyphs">25</text>
<text x="2362.5" y="1091.0" font-size="33.5" textLength="17.5" lengthAdjust="spacingAndGlyphs">4</text>
<text x="2182.0" y="1123.0" font-size="33.5" textLength="17.0" lengthAdjust="spacingAndGlyphs">2</text>
<text x="2142.0" y="1204.5" font-size="33.5" textLength="18.0" lengthAdjust="spacingAndGlyphs">3</text>
<text x="1969.0" y="1122.0" font-size="33.5" textLength="17.5" lengthAdjust="spacingAndGlyphs">5</text>
<text x="2714.5" y="1389.7" font-size="33.5" textLength="39.0" lengthAdjust="spacingAndGlyphs">26</text>
<text x="2721.5" y="1637.5" font-size="33.5" textLength="37.5" lengthAdjust="spacingAndGlyphs">24</text>
<text x="2561.0" y="1847.5" font-size="29.5" textLength="209.0" lengthAdjust="spacingAndGlyphs">Engine Support</text>
<text x="2580.5" y="1883.0" font-size="29.5" textLength="170.0" lengthAdjust="spacingAndGlyphs">Ground Wire</text>
<text x="282.5" y="880.0" font-size="33.5" textLength="17.5" lengthAdjust="spacingAndGlyphs">9</text>
<text x="301.0" y="945.0" font-size="33.5" textLength="17.5" lengthAdjust="spacingAndGlyphs">8</text>
<text x="640.0" y="957.5" font-size="33.5" textLength="35.0" lengthAdjust="spacingAndGlyphs">10</text>
<text x="372.5" y="1086.0" font-size="33.5" textLength="17.5" lengthAdjust="spacingAndGlyphs">7</text>
<text x="568.5" y="1067.0" font-size="33.5" textLength="17.5" lengthAdjust="spacingAndGlyphs">9</text>
<text x="406.5" y="1168.5" font-size="33.5" textLength="87.0" lengthAdjust="spacingAndGlyphs">6<tspan font-family="DejaVu Sans,sans-serif" font-weight="bold" font-size="37.5">➔</tspan>10</text>
<text x="232.0" y="1221.0" font-size="33.5" textLength="31.5" lengthAdjust="spacingAndGlyphs">11</text>
<text x="296.0" y="1236.0" font-size="33.5" textLength="33.5" lengthAdjust="spacingAndGlyphs">12</text>
<text x="196.0" y="1399.5" font-size="33.5" textLength="32.5" lengthAdjust="spacingAndGlyphs">11</text>
<text x="248.5" y="1414.5" font-size="33.5" textLength="32.5" lengthAdjust="spacingAndGlyphs">12</text>
<text x="664.5" y="1415.0" font-size="33.5" textLength="32.5" lengthAdjust="spacingAndGlyphs">11</text>
<text x="740.5" y="1436.0" font-size="33.5" textLength="34.0" lengthAdjust="spacingAndGlyphs">12</text>
<text x="257.5" y="1766.5" font-size="33.5" textLength="33.0" lengthAdjust="spacingAndGlyphs">12</text>
<text x="225.0" y="1825.0" font-size="33.5" textLength="32.5" lengthAdjust="spacingAndGlyphs">11</text>
<text x="372.5" y="1885.5" font-size="33.5" textLength="32.5" lengthAdjust="spacingAndGlyphs">12</text>
<text x="348.0" y="1943.0" font-size="33.5" textLength="31.0" lengthAdjust="spacingAndGlyphs">11</text>
<text x="589.5" y="1923.5" font-size="33.5" textLength="86.5" lengthAdjust="spacingAndGlyphs">6<tspan font-family="DejaVu Sans,sans-serif" font-weight="bold" font-size="37.5">➔</tspan>10</text>
<text x="860.0" y="1819.0" font-size="33.5" textLength="33.0" lengthAdjust="spacingAndGlyphs">12</text>
<text x="845.0" y="1926.0" font-size="33.5" textLength="31.5" lengthAdjust="spacingAndGlyphs">11</text>
<text x="212.0" y="1960.0" font-size="19" textLength="88.5" lengthAdjust="spacingAndGlyphs">38M1442</text>
<text x="1380.0" y="874.0" font-size="33.5" textLength="64.0" lengthAdjust="spacingAndGlyphs">1<tspan font-family="DejaVu Sans,sans-serif" font-weight="bold" font-size="37.5">➔</tspan>4</text>
<text x="1883.0" y="1462.0" font-size="33.5" textLength="37.0" lengthAdjust="spacingAndGlyphs">23</text>
<text x="2033.5" y="1444.5" font-size="33.5" textLength="273.0" lengthAdjust="spacingAndGlyphs">See Main Harness</text>
<text x="1143.0" y="1528.0" font-size="33.5" textLength="35.0" lengthAdjust="spacingAndGlyphs">22</text>
<text x="1435.0" y="1672.0" font-size="33.5" textLength="35.0" lengthAdjust="spacingAndGlyphs">21</text>
<text x="1890.0" y="1585.5" font-size="33.5" textLength="35.0" lengthAdjust="spacingAndGlyphs">18</text>
<text x="1854.5" y="1660.0" font-size="33.5" textLength="32.0" lengthAdjust="spacingAndGlyphs">17</text>
<text x="1962.5" y="1804.0" font-size="33.5" textLength="104.5" lengthAdjust="spacingAndGlyphs">13<tspan font-family="DejaVu Sans,sans-serif" font-weight="bold" font-size="37.5">➔</tspan>16</text>
<text x="1711.5" y="1858.5" font-size="33.5" textLength="83.5" lengthAdjust="spacingAndGlyphs">14,15</text>
<text x="1966.0" y="1888.0" font-size="33.5" textLength="33.5" lengthAdjust="spacingAndGlyphs">16</text>
</g>
</svg>
</body></html>
